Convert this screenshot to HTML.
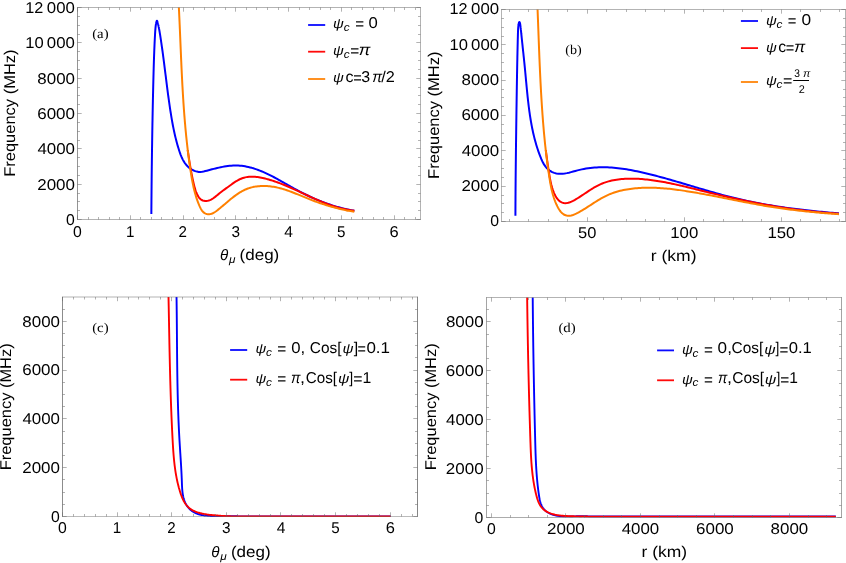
<!DOCTYPE html>
<html><head><meta charset="utf-8"><title>Frequency plots</title>
<style>html,body{margin:0;padding:0;background:#fff;}svg{display:block;will-change:transform;}text{font-family:"Liberation Sans",sans-serif;fill:#000;text-rendering:geometricPrecision;}.i{font-style:italic;}.s{font-family:"Liberation Serif",serif;}</style></head><body>
<svg width="846" height="563" viewBox="0 0 846 563">
<rect width="846" height="563" fill="#fff"/>
<defs><clipPath id="ca"><rect x="77.50" y="7.50" width="343.00" height="212.00"/></clipPath>
<clipPath id="car"><rect x="77.50" y="150" width="343.00" height="69.50"/></clipPath>
<clipPath id="cbr"><rect x="501.50" y="150" width="344.00" height="71.50"/></clipPath>
<clipPath id="cb"><rect x="501.50" y="9.50" width="344.00" height="212.00"/></clipPath>
<clipPath id="cc"><rect x="62.50" y="297.00" width="355.00" height="220.00"/></clipPath>
<clipPath id="cd"><rect x="486.50" y="297.50" width="355.00" height="220.10"/></clipPath></defs>
<path d="M151.35 214.00 L151.36 212.26 L151.37 210.51 L151.38 208.77 L151.40 207.02 L151.41 205.27 L151.43 203.53 L151.44 201.78 L151.45 200.04 L151.47 198.29 L151.49 196.55 L151.50 194.80 L151.52 193.06 L151.53 191.31 L151.55 189.57 L151.57 187.82 L151.58 186.08 L151.60 184.33 L151.62 182.59 L151.64 180.84 L151.65 179.10 L151.67 177.35 L151.69 175.61 L151.71 173.86 L151.73 172.12 L151.75 170.37 L151.77 168.63 L151.79 166.88 L151.81 165.14 L151.84 163.39 L151.86 161.65 L151.88 159.90 L151.90 158.16 L151.93 156.41 L151.95 154.67 L151.97 152.92 L152.00 151.18 L152.02 149.43 L152.05 147.69 L152.07 145.94 L152.10 144.20 L152.13 142.46 L152.15 140.71 L152.18 138.97 L152.21 137.22 L152.24 135.48 L152.26 133.73 L152.29 131.99 L152.32 130.24 L152.35 128.50 L152.38 126.75 L152.41 125.01 L152.44 123.26 L152.48 121.52 L152.51 119.78 L152.54 118.03 L152.57 116.29 L152.61 114.54 L152.64 112.80 L152.68 111.05 L152.71 109.31 L152.75 107.56 L152.78 105.82 L152.82 104.07 L152.86 102.33 L152.89 100.58 L152.93 98.84 L152.97 97.09 L153.01 95.35 L153.05 93.60 L153.09 91.86 L153.13 90.11 L153.17 88.37 L153.21 86.62 L153.25 84.88 L153.30 83.13 L153.34 81.39 L153.38 79.64 L153.43 77.90 L153.47 76.15 L153.52 74.41 L153.56 72.66 L153.61 70.92 L153.66 69.17 L153.71 67.43 L153.76 65.68 L153.81 63.94 L153.87 62.19 L153.92 60.45 L153.98 58.70 L154.04 56.96 L154.10 55.22 L154.17 53.47 L154.23 51.73 L154.30 49.98 L154.37 48.24 L154.45 46.50 L154.52 44.75 L154.60 43.01 L154.68 41.27 L154.77 39.53 L154.86 37.78 L154.95 36.04 L155.05 34.30 L155.06 34.00 L155.08 33.66 L155.10 33.31 L155.12 32.97 L155.14 32.63 L155.15 32.56 L155.16 32.29 L155.18 31.94 L155.20 31.60 L155.23 31.26 L155.25 30.91 L155.26 30.82 L155.27 30.57 L155.30 30.23 L155.32 29.89 L155.35 29.55 L155.38 29.20 L155.39 29.09 L155.41 28.86 L155.44 28.52 L155.47 28.18 L155.50 27.84 L155.53 27.50 L155.55 27.36 L155.57 27.16 L155.61 26.82 L155.64 26.48 L155.68 26.14 L155.73 25.80 L155.75 25.64 L155.77 25.47 L155.81 25.13 L155.86 24.79 L155.91 24.45 L155.96 24.12 L155.99 23.93 L156.02 23.78 L156.08 23.44 L156.15 23.09 L156.22 22.73 L156.31 22.36 L156.37 22.11 L156.41 21.97 L156.52 21.57 L156.65 21.20 L156.78 20.91 L156.92 20.76 L157.01 20.77 L157.05 20.80 L157.18 21.00 L157.30 21.33 L157.42 21.72 L157.53 22.14 L157.62 22.46 L157.64 22.55 L157.74 22.93 L157.84 23.29 L157.93 23.65 L158.01 23.99 L158.09 24.27 L158.10 24.32 L158.18 24.64 L158.26 24.97 L158.33 25.29 L158.41 25.61 L158.48 25.92 L158.48 25.94 L158.55 26.27 L158.63 26.60 L158.69 26.92 L158.76 27.25 L158.83 27.58 L158.83 27.59 L158.90 27.92 L158.96 28.25 L159.03 28.58 L159.09 28.92 L159.15 29.25 L159.16 29.28 L159.22 29.59 L159.28 29.92 L159.34 30.26 L159.40 30.60 L159.45 30.94 L159.46 30.99 L159.51 31.27 L159.57 31.61 L159.63 31.95 L159.68 32.29 L159.74 32.63 L159.75 32.71 L159.80 32.97 L159.85 33.31 L159.91 33.65 L159.96 33.99 L160.03 34.44 L160.31 36.16 L160.58 37.89 L160.84 39.62 L161.10 41.34 L161.36 43.07 L161.61 44.80 L161.85 46.53 L162.10 48.26 L162.34 50.00 L162.58 51.73 L162.81 53.46 L163.04 55.19 L163.27 56.92 L163.50 58.66 L163.73 60.39 L163.95 62.12 L164.17 63.85 L164.39 65.59 L164.61 67.32 L164.83 69.05 L165.05 70.79 L165.27 72.52 L165.48 74.25 L165.70 75.98 L165.92 77.72 L166.13 79.45 L166.35 81.18 L166.57 82.91 L166.79 84.64 L167.01 86.37 L167.23 88.10 L167.46 89.83 L167.68 91.56 L167.91 93.29 L168.14 95.02 L168.38 96.74 L168.61 98.47 L168.85 100.19 L169.09 101.92 L169.34 103.64 L169.59 105.36 L169.84 107.09 L170.10 108.81 L170.36 110.53 L170.63 112.24 L170.90 113.96 L171.17 115.68 L171.46 117.39 L171.75 119.11 L172.05 120.82 L172.35 122.53 L172.67 124.24 L172.99 125.95 L173.33 127.66 L173.68 129.37 L174.03 131.07 L174.40 132.78 L174.79 134.48 L175.18 136.18 L175.59 137.89 L176.02 139.59 L176.46 141.29 L176.92 142.98 L177.39 144.68 L177.88 146.38 L178.39 148.07 L178.92 149.76 L179.47 151.45 L180.05 153.14 L180.66 154.80 L181.31 156.44 L182.02 158.04 L182.79 159.61 L183.62 161.12 L184.53 162.58 L185.52 163.97 L186.60 165.28 L187.77 166.52 L189.06 167.66 L190.46 168.71 L191.97 169.65 L193.59 170.46 L195.26 171.12 L196.97 171.61 L198.68 171.89 L200.37 171.95 L202.01 171.79 L203.64 171.49 L205.27 171.09 L206.91 170.66 L208.58 170.22 L210.27 169.77 L211.98 169.32 L213.70 168.88 L215.45 168.45 L217.20 168.02 L218.96 167.62 L220.73 167.24 L222.50 166.88 L224.28 166.55 L226.06 166.26 L227.83 166.01 L229.61 165.81 L231.37 165.65 L233.12 165.55 L234.87 165.50 L236.60 165.51 L238.32 165.57 L240.03 165.69 L241.73 165.86 L243.42 166.08 L245.10 166.34 L246.77 166.65 L248.43 167.01 L250.08 167.41 L251.73 167.84 L253.36 168.32 L254.99 168.83 L256.61 169.38 L258.22 169.96 L259.83 170.58 L261.43 171.22 L263.03 171.89 L264.62 172.59 L266.20 173.32 L267.78 174.06 L269.35 174.83 L270.92 175.61 L272.49 176.42 L274.05 177.24 L275.60 178.07 L277.16 178.91 L278.71 179.77 L280.26 180.63 L281.81 181.51 L283.36 182.38 L284.90 183.26 L286.44 184.14 L287.99 185.03 L289.53 185.90 L291.07 186.78 L292.61 187.65 L294.16 188.51 L295.70 189.37 L297.25 190.21 L298.79 191.04 L300.34 191.86 L301.89 192.67 L303.45 193.46 L305.00 194.24 L306.56 195.01 L308.13 195.76 L309.69 196.50 L311.26 197.22 L312.84 197.93 L314.42 198.63 L316.00 199.32 L317.59 199.99 L319.18 200.64 L320.78 201.28 L322.39 201.90 L324.00 202.51 L325.62 203.11 L327.24 203.69 L328.87 204.25 L330.51 204.80 L332.16 205.34 L333.81 205.85 L335.47 206.35 L337.14 206.84 L338.82 207.31 L340.51 207.76 L342.21 208.19 L343.92 208.61 L345.63 209.01 L347.36 209.40 L349.10 209.76 L350.85 210.11 L352.60 210.44 L354.37 210.76" fill="none" stroke="#0000ff" stroke-width="2.00" stroke-linejoin="round" stroke-linecap="butt" clip-path="url(#ca)"/>
<path d="M177.80 -9.96 L177.90 -8.71 L177.99 -7.45 L178.08 -6.19 L178.18 -4.93 L178.26 -3.67 L178.35 -2.41 L178.44 -1.15 L178.52 0.12 L178.60 1.38 L178.68 2.64 L178.76 3.90 L178.84 5.16 L178.91 6.43 L178.99 7.69 L179.06 8.95 L179.13 10.22 L179.20 11.48 L179.27 12.75 L179.33 14.01 L179.40 15.28 L179.46 16.54 L179.53 17.81 L179.59 19.07 L179.65 20.34 L179.71 21.60 L179.77 22.87 L179.83 24.14 L179.88 25.40 L179.94 26.67 L180.00 27.94 L180.05 29.20 L180.10 30.47 L180.16 31.74 L180.21 33.01 L180.26 34.27 L180.31 35.54 L180.36 36.81 L180.41 38.08 L180.46 39.35 L180.51 40.62 L180.56 41.88 L180.61 43.15 L180.66 44.42 L180.70 45.69 L180.75 46.96 L180.80 48.23 L180.85 49.50 L180.89 50.77 L180.94 52.04 L180.99 53.31 L181.03 54.58 L181.08 55.85 L181.13 57.12 L181.18 58.39 L181.22 59.65 L181.27 60.92 L181.32 62.19 L181.37 63.46 L181.42 64.73 L181.47 66.00 L181.52 67.27 L181.57 68.54 L181.62 69.81 L181.67 71.08 L181.72 72.35 L181.77 73.62 L181.82 74.89 L181.88 76.16 L181.93 77.43 L181.99 78.70 L182.04 79.97 L182.10 81.24 L182.16 82.50 L182.22 83.77 L182.28 85.04 L182.34 86.31 L182.40 87.58 L182.46 88.85 L182.53 90.12 L182.59 91.38 L182.66 92.65 L182.73 93.92 L182.80 95.19 L182.87 96.45 L182.94 97.72 L183.02 98.99 L183.09 100.26 L183.17 101.52 L183.25 102.79 L183.33 104.05 L183.41 105.32 L183.49 106.59 L183.58 107.85 L183.66 109.12 L183.75 110.38 L183.84 111.65 L183.94 112.91 L184.03 114.17 L184.13 115.44 L184.23 116.70 L184.33 117.97 L184.43 119.23 L184.54 120.49 L184.64 121.75 L184.75 123.02 L184.87 124.28 L184.98 125.54 L185.10 126.80 L185.22 128.06 L185.34 129.32 L185.46 130.58 L185.59 131.84 L185.72 133.10 L185.85 134.36 L185.98 135.62 L186.12 136.88 L186.26 138.13 L186.40 139.39 L186.55 140.65 L186.70 141.91 L186.85 143.16 L187.00 144.42 L187.16 145.67 L187.32 146.93 L187.48 148.18 L187.65 149.44 L187.82 150.69 L187.99 151.94 L188.17 153.19 L188.35 154.45 L188.53 155.70 L188.72 156.95 L188.91 158.20 L189.10 159.45 L189.30 160.70 L189.50 161.95 L189.70 163.20 L189.91 164.44 L190.12 165.69 L190.33 166.94 L190.55 168.19 L190.78 169.43 L191.00 170.68 L191.24 171.93 L191.48 173.17 L191.72 174.42 L191.97 175.67 L192.22 176.91 L192.49 178.16 L192.75 179.41 L193.03 180.66 L193.31 181.91 L193.60 183.16 L193.89 184.42 L194.19 185.67 L194.51 186.92 L194.85 188.16 L195.22 189.40 L195.62 190.62 L196.06 191.83 L196.54 193.02 L197.07 194.19 L197.66 195.34 L198.31 196.46 L199.03 197.52 L199.83 198.49 L200.71 199.33 L201.70 200.01 L202.78 200.52 L203.93 200.85 L205.12 201.02 L206.35 201.03 L207.58 200.88 L208.79 200.59 L209.97 200.15 L211.12 199.60 L212.24 198.95 L213.33 198.21 L214.41 197.43 L215.46 196.60 L216.50 195.76 L217.51 194.92 L218.52 194.10 L219.51 193.30 L220.49 192.53 L221.47 191.78 L222.44 191.04 L223.41 190.32 L224.38 189.60 L225.36 188.88 L226.34 188.16 L227.34 187.44 L228.35 186.71 L229.37 185.97 L230.41 185.21 L231.47 184.45 L232.54 183.68 L233.63 182.93 L234.74 182.18 L235.86 181.46 L236.99 180.77 L238.14 180.12 L239.30 179.51 L240.47 178.96 L241.65 178.46 L242.85 178.03 L244.05 177.67 L245.26 177.37 L246.48 177.12 L247.70 176.93 L248.93 176.80 L250.17 176.71 L251.41 176.67 L252.65 176.68 L253.90 176.73 L255.15 176.82 L256.40 176.94 L257.65 177.10 L258.90 177.28 L260.15 177.50 L261.39 177.74 L262.64 178.00 L263.88 178.29 L265.12 178.59 L266.35 178.90 L267.58 179.23 L268.80 179.57 L270.02 179.92 L271.23 180.29 L272.44 180.67 L273.64 181.06 L274.84 181.46 L276.04 181.87 L277.23 182.30 L278.42 182.73 L279.61 183.17 L280.80 183.62 L281.98 184.09 L283.15 184.55 L284.33 185.03 L285.50 185.51 L286.67 186.00 L287.84 186.50 L289.01 187.00 L290.17 187.51 L291.33 188.02 L292.49 188.54 L293.65 189.06 L294.81 189.58 L295.96 190.11 L297.12 190.64 L298.27 191.18 L299.43 191.71 L300.58 192.25 L301.73 192.79 L302.89 193.32 L304.04 193.86 L305.19 194.40 L306.34 194.94 L307.50 195.47 L308.65 196.01 L309.80 196.54 L310.96 197.07 L312.12 197.60 L313.27 198.12 L314.43 198.64 L315.59 199.16 L316.75 199.67 L317.91 200.17 L319.08 200.67 L320.25 201.17 L321.42 201.65 L322.59 202.13 L323.76 202.60 L324.94 203.07 L326.12 203.53 L327.30 203.97 L328.48 204.41 L329.67 204.84 L330.86 205.26 L332.06 205.67 L333.26 206.06 L334.46 206.45 L335.67 206.82 L336.88 207.18 L338.09 207.53 L339.31 207.87 L340.54 208.19 L341.77 208.50 L343.00 208.79 L344.24 209.07 L345.48 209.33 L346.73 209.58 L347.99 209.81 L349.25 210.02 L350.52 210.22 L351.79 210.40 L353.07 210.56 L354.35 210.70" fill="none" stroke="#ff0000" stroke-width="2.00" stroke-linejoin="round" stroke-linecap="butt" clip-path="url(#car)"/>
<path d="M177.92 -9.97 L178.00 -8.68 L178.08 -7.38 L178.15 -6.09 L178.22 -4.80 L178.29 -3.50 L178.37 -2.21 L178.44 -0.91 L178.50 0.39 L178.57 1.68 L178.64 2.98 L178.71 4.27 L178.77 5.57 L178.84 6.87 L178.90 8.16 L178.96 9.46 L179.03 10.76 L179.09 12.06 L179.15 13.36 L179.21 14.65 L179.27 15.95 L179.33 17.25 L179.39 18.55 L179.45 19.85 L179.51 21.15 L179.57 22.45 L179.62 23.75 L179.68 25.05 L179.74 26.35 L179.79 27.65 L179.85 28.95 L179.91 30.25 L179.96 31.55 L180.02 32.85 L180.07 34.15 L180.13 35.45 L180.18 36.76 L180.24 38.06 L180.29 39.36 L180.34 40.66 L180.40 41.96 L180.45 43.26 L180.51 44.57 L180.56 45.87 L180.62 47.17 L180.67 48.47 L180.73 49.77 L180.78 51.08 L180.84 52.38 L180.90 53.68 L180.95 54.98 L181.01 56.29 L181.06 57.59 L181.12 58.89 L181.18 60.19 L181.24 61.49 L181.30 62.80 L181.35 64.10 L181.41 65.40 L181.47 66.70 L181.53 68.01 L181.59 69.31 L181.66 70.61 L181.72 71.91 L181.78 73.22 L181.85 74.52 L181.91 75.82 L181.97 77.12 L182.04 78.43 L182.11 79.73 L182.17 81.03 L182.24 82.33 L182.31 83.63 L182.38 84.93 L182.45 86.24 L182.53 87.54 L182.60 88.84 L182.67 90.14 L182.75 91.44 L182.83 92.74 L182.90 94.04 L182.98 95.34 L183.06 96.64 L183.14 97.94 L183.23 99.24 L183.31 100.54 L183.39 101.84 L183.48 103.14 L183.57 104.44 L183.66 105.74 L183.75 107.04 L183.84 108.34 L183.93 109.64 L184.03 110.94 L184.12 112.23 L184.22 113.53 L184.32 114.83 L184.42 116.13 L184.53 117.42 L184.63 118.72 L184.74 120.02 L184.84 121.31 L184.95 122.61 L185.07 123.91 L185.18 125.20 L185.29 126.50 L185.41 127.79 L185.53 129.09 L185.65 130.38 L185.77 131.67 L185.90 132.97 L186.02 134.26 L186.15 135.55 L186.28 136.85 L186.42 138.14 L186.55 139.43 L186.69 140.72 L186.83 142.01 L186.97 143.31 L187.12 144.60 L187.26 145.89 L187.41 147.18 L187.56 148.47 L187.71 149.75 L187.87 151.04 L188.03 152.33 L188.19 153.62 L188.35 154.91 L188.52 156.19 L188.68 157.48 L188.85 158.77 L189.03 160.05 L189.20 161.34 L189.38 162.62 L189.56 163.90 L189.75 165.19 L189.93 166.47 L190.12 167.75 L190.31 169.04 L190.51 170.32 L190.71 171.60 L190.91 172.88 L191.11 174.16 L191.32 175.44 L191.53 176.72 L191.75 178.00 L191.97 179.28 L192.21 180.55 L192.44 181.83 L192.69 183.10 L192.95 184.38 L193.22 185.65 L193.49 186.93 L193.78 188.20 L194.08 189.47 L194.40 190.74 L194.73 192.01 L195.07 193.28 L195.43 194.55 L195.80 195.82 L196.19 197.09 L196.60 198.35 L197.03 199.62 L197.48 200.88 L197.94 202.14 L198.43 203.41 L198.94 204.67 L199.47 205.93 L200.03 207.17 L200.63 208.37 L201.28 209.52 L201.98 210.59 L202.76 211.57 L203.62 212.42 L204.56 213.12 L205.60 213.67 L206.75 214.03 L207.97 214.22 L209.21 214.23 L210.45 214.06 L211.64 213.73 L212.80 213.26 L213.92 212.67 L215.02 211.99 L216.09 211.24 L217.15 210.44 L218.20 209.62 L219.24 208.79 L220.27 207.95 L221.30 207.10 L222.32 206.24 L223.34 205.38 L224.35 204.51 L225.37 203.65 L226.38 202.78 L227.39 201.91 L228.41 201.05 L229.42 200.20 L230.44 199.35 L231.46 198.52 L232.49 197.69 L233.52 196.88 L234.56 196.09 L235.61 195.32 L236.66 194.56 L237.73 193.83 L238.80 193.11 L239.89 192.43 L240.99 191.77 L242.10 191.15 L243.23 190.55 L244.37 189.99 L245.53 189.46 L246.70 188.97 L247.90 188.52 L249.11 188.10 L250.34 187.73 L251.58 187.40 L252.84 187.10 L254.11 186.84 L255.39 186.61 L256.68 186.42 L257.98 186.27 L259.28 186.15 L260.59 186.06 L261.91 186.00 L263.22 185.98 L264.54 185.99 L265.85 186.02 L267.17 186.09 L268.48 186.19 L269.79 186.31 L271.09 186.46 L272.38 186.64 L273.67 186.85 L274.95 187.08 L276.22 187.33 L277.49 187.61 L278.75 187.90 L280.01 188.22 L281.26 188.55 L282.51 188.91 L283.75 189.28 L284.99 189.67 L286.22 190.07 L287.45 190.49 L288.68 190.92 L289.90 191.36 L291.12 191.81 L292.34 192.27 L293.55 192.74 L294.77 193.21 L295.98 193.70 L297.19 194.19 L298.40 194.68 L299.61 195.17 L300.82 195.67 L302.03 196.17 L303.24 196.67 L304.44 197.16 L305.65 197.66 L306.86 198.15 L308.08 198.64 L309.29 199.12 L310.51 199.59 L311.72 200.06 L312.94 200.53 L314.16 200.99 L315.38 201.44 L316.61 201.88 L317.83 202.32 L319.06 202.76 L320.29 203.18 L321.52 203.60 L322.75 204.02 L323.99 204.42 L325.23 204.82 L326.46 205.22 L327.71 205.60 L328.95 205.98 L330.19 206.35 L331.44 206.71 L332.69 207.06 L333.94 207.41 L335.20 207.75 L336.45 208.08 L337.71 208.40 L338.97 208.71 L340.23 209.01 L341.50 209.31 L342.77 209.59 L344.04 209.87 L345.31 210.14 L346.59 210.40 L347.86 210.65 L349.14 210.89 L350.43 211.11 L351.71 211.33 L353.00 211.54 L354.29 211.74" fill="none" stroke="#ff8000" stroke-width="2.00" stroke-linejoin="round" stroke-linecap="butt" clip-path="url(#ca)"/>
<path d="M88.50 219.50v-2.50 M88.50 7.50v2.50 M98.50 219.50v-2.50 M98.50 7.50v2.50 M109.50 219.50v-2.50 M109.50 7.50v2.50 M119.50 219.50v-2.50 M119.50 7.50v2.50 M140.50 219.50v-2.50 M140.50 7.50v2.50 M151.50 219.50v-2.50 M151.50 7.50v2.50 M161.50 219.50v-2.50 M161.50 7.50v2.50 M172.50 219.50v-2.50 M172.50 7.50v2.50 M193.50 219.50v-2.50 M193.50 7.50v2.50 M204.50 219.50v-2.50 M204.50 7.50v2.50 M214.50 219.50v-2.50 M214.50 7.50v2.50 M225.50 219.50v-2.50 M225.50 7.50v2.50 M246.50 219.50v-2.50 M246.50 7.50v2.50 M256.50 219.50v-2.50 M256.50 7.50v2.50 M267.50 219.50v-2.50 M267.50 7.50v2.50 M278.50 219.50v-2.50 M278.50 7.50v2.50 M299.50 219.50v-2.50 M299.50 7.50v2.50 M309.50 219.50v-2.50 M309.50 7.50v2.50 M320.50 219.50v-2.50 M320.50 7.50v2.50 M330.50 219.50v-2.50 M330.50 7.50v2.50 M351.50 219.50v-2.50 M351.50 7.50v2.50 M362.50 219.50v-2.50 M362.50 7.50v2.50 M373.50 219.50v-2.50 M373.50 7.50v2.50 M383.50 219.50v-2.50 M383.50 7.50v2.50 M404.50 219.50v-2.50 M404.50 7.50v2.50 M415.50 219.50v-2.50 M415.50 7.50v2.50 M77.50 219.50v-4.20 M77.50 7.50v4.20 M130.50 219.50v-4.20 M130.50 7.50v4.20 M183.50 219.50v-4.20 M183.50 7.50v4.20 M235.50 219.50v-4.20 M235.50 7.50v4.20 M288.50 219.50v-4.20 M288.50 7.50v4.20 M341.50 219.50v-4.20 M341.50 7.50v4.20 M394.50 219.50v-4.20 M394.50 7.50v4.20 M77.50 210.50h2.50 M420.50 210.50h-2.50 M77.50 201.50h2.50 M420.50 201.50h-2.50 M77.50 193.50h2.50 M420.50 193.50h-2.50 M77.50 175.50h2.50 M420.50 175.50h-2.50 M77.50 166.50h2.50 M420.50 166.50h-2.50 M77.50 157.50h2.50 M420.50 157.50h-2.50 M77.50 140.50h2.50 M420.50 140.50h-2.50 M77.50 131.50h2.50 M420.50 131.50h-2.50 M77.50 122.50h2.50 M420.50 122.50h-2.50 M77.50 104.50h2.50 M420.50 104.50h-2.50 M77.50 95.50h2.50 M420.50 95.50h-2.50 M77.50 87.50h2.50 M420.50 87.50h-2.50 M77.50 69.50h2.50 M420.50 69.50h-2.50 M77.50 60.50h2.50 M420.50 60.50h-2.50 M77.50 51.50h2.50 M420.50 51.50h-2.50 M77.50 34.50h2.50 M420.50 34.50h-2.50 M77.50 25.50h2.50 M420.50 25.50h-2.50 M77.50 16.50h2.50 M420.50 16.50h-2.50 M77.50 219.50h4.20 M420.50 219.50h-4.20 M77.50 184.50h4.20 M420.50 184.50h-4.20 M77.50 148.50h4.20 M420.50 148.50h-4.20 M77.50 113.50h4.20 M420.50 113.50h-4.20 M77.50 78.50h4.20 M420.50 78.50h-4.20 M77.50 42.50h4.20 M420.50 42.50h-4.20 M77.50 7.50h4.20 M420.50 7.50h-4.20" stroke="#666" stroke-width="0.50" fill="none"/>
<path d="M77.50 7.25V219.75" stroke="#666" stroke-width="0.70" fill="none"/>
<path d="M420.50 7.25V219.75" stroke="#666" stroke-width="0.50" fill="none"/>
<path d="M77.25 7.50H420.75" stroke="#666" stroke-width="0.50" fill="none"/>
<path d="M77.25 219.50H420.75" stroke="#666" stroke-width="0.50" fill="none"/>
<path d="M515.42 215.80 L515.42 213.65 L515.43 211.50 L515.44 209.34 L515.45 207.19 L515.46 205.04 L515.47 202.88 L515.49 200.73 L515.50 198.58 L515.51 196.43 L515.53 194.27 L515.54 192.12 L515.56 189.97 L515.57 187.82 L515.59 185.67 L515.61 183.51 L515.63 181.36 L515.64 179.21 L515.66 177.06 L515.68 174.91 L515.70 172.76 L515.72 170.60 L515.75 168.45 L515.77 166.30 L515.79 164.15 L515.81 162.00 L515.84 159.85 L515.86 157.69 L515.88 155.54 L515.91 153.39 L515.93 151.24 L515.96 149.09 L515.98 146.94 L516.01 144.79 L516.04 142.63 L516.06 140.48 L516.09 138.33 L516.12 136.18 L516.15 134.03 L516.18 131.88 L516.20 129.72 L516.23 127.57 L516.26 125.42 L516.29 123.27 L516.32 121.12 L516.35 118.97 L516.38 116.81 L516.41 114.66 L516.44 112.51 L516.47 110.36 L516.50 108.20 L516.54 106.05 L516.57 103.90 L516.60 101.75 L516.63 99.59 L516.66 97.44 L516.70 95.29 L516.73 93.14 L516.76 90.98 L516.80 88.83 L516.83 86.68 L516.87 84.53 L516.90 82.37 L516.94 80.22 L516.97 78.07 L517.01 75.92 L517.05 73.76 L517.09 71.61 L517.13 69.46 L517.17 67.31 L517.21 65.15 L517.25 63.00 L517.30 60.85 L517.34 58.70 L517.38 56.55 L517.43 54.40 L517.48 52.25 L517.53 50.09 L517.58 47.94 L517.63 45.79 L517.68 43.64 L517.73 41.49 L517.78 39.34 L517.84 37.19 L517.90 35.04 L517.93 34.00 L517.93 33.69 L517.94 33.38 L517.95 33.07 L517.96 32.90 L517.96 32.76 L517.97 32.45 L517.98 32.14 L517.99 31.83 L518.00 31.52 L518.01 31.21 L518.02 30.90 L518.03 30.75 L518.04 30.59 L518.05 30.28 L518.06 29.97 L518.08 29.66 L518.10 29.35 L518.11 29.04 L518.13 28.73 L518.14 28.60 L518.15 28.42 L518.18 28.11 L518.20 27.80 L518.22 27.49 L518.25 27.18 L518.28 26.87 L518.31 26.56 L518.32 26.47 L518.34 26.26 L518.37 25.95 L518.41 25.64 L518.45 25.33 L518.49 25.02 L518.53 24.72 L518.57 24.41 L518.59 24.33 L518.63 24.09 L518.69 23.77 L518.76 23.44 L518.85 23.10 L518.95 22.75 L519.07 22.41 L519.20 22.14 L519.22 22.10 L519.34 21.98 L519.48 21.99 L519.61 22.16 L519.74 22.45 L519.86 22.79 L519.96 23.14 L520.05 23.48 L520.05 23.50 L520.12 23.81 L520.18 24.13 L520.23 24.44 L520.27 24.75 L520.31 25.06 L520.35 25.36 L520.39 25.67 L520.39 25.67 L520.43 25.98 L520.47 26.29 L520.51 26.59 L520.55 26.90 L520.58 27.21 L520.62 27.52 L520.65 27.80 L520.66 27.83 L520.69 28.13 L520.73 28.44 L520.76 28.75 L520.80 29.06 L520.83 29.37 L520.86 29.67 L520.89 29.93 L520.90 29.98 L520.93 30.29 L520.96 30.60 L521.00 30.91 L521.03 31.22 L521.06 31.53 L521.09 31.83 L521.12 32.07 L521.12 32.14 L521.16 32.45 L521.19 32.76 L521.22 33.07 L521.25 33.38 L521.28 33.69 L521.31 34.00 L521.34 34.20 L521.56 36.34 L521.78 38.48 L522.00 40.61 L522.23 42.75 L522.46 44.89 L522.68 47.03 L522.91 49.17 L523.14 51.31 L523.37 53.45 L523.59 55.59 L523.82 57.73 L524.04 59.88 L524.26 62.02 L524.48 64.16 L524.70 66.30 L524.91 68.45 L525.12 70.59 L525.32 72.74 L525.52 74.88 L525.72 77.02 L525.92 79.17 L526.12 81.31 L526.32 83.46 L526.52 85.60 L526.73 87.75 L526.93 89.89 L527.15 92.03 L527.36 94.18 L527.58 96.32 L527.81 98.46 L528.05 100.59 L528.29 102.73 L528.55 104.87 L528.81 107.00 L529.08 109.13 L529.37 111.26 L529.67 113.39 L529.98 115.52 L530.31 117.64 L530.65 119.76 L531.01 121.88 L531.39 124.00 L531.78 126.11 L532.19 128.22 L532.63 130.32 L533.08 132.42 L533.56 134.52 L534.06 136.61 L534.59 138.70 L535.14 140.78 L535.71 142.85 L536.32 144.92 L536.95 146.98 L537.61 149.04 L538.30 151.09 L539.02 153.14 L539.77 155.17 L540.56 157.20 L541.39 159.22 L542.28 161.20 L543.25 163.12 L544.34 164.95 L545.57 166.68 L546.95 168.28 L548.52 169.73 L550.30 171.00 L552.24 172.06 L554.27 172.87 L556.33 173.43 L558.41 173.74 L560.49 173.84 L562.59 173.75 L564.70 173.50 L566.81 173.13 L568.93 172.66 L571.06 172.12 L573.19 171.54 L575.33 170.95 L577.47 170.37 L579.61 169.85 L581.75 169.37 L583.89 168.95 L586.02 168.58 L588.16 168.26 L590.30 167.98 L592.44 167.76 L594.58 167.58 L596.72 167.44 L598.86 167.34 L600.99 167.29 L603.13 167.28 L605.26 167.30 L607.40 167.36 L609.53 167.46 L611.66 167.59 L613.79 167.76 L615.92 167.95 L618.05 168.18 L620.17 168.43 L622.30 168.72 L624.42 169.03 L626.54 169.36 L628.66 169.71 L630.78 170.09 L632.89 170.49 L635.00 170.91 L637.11 171.34 L639.22 171.79 L641.32 172.26 L643.42 172.74 L645.52 173.23 L647.61 173.73 L649.70 174.24 L651.79 174.76 L653.88 175.29 L655.97 175.83 L658.05 176.38 L660.13 176.94 L662.21 177.50 L664.28 178.07 L666.36 178.65 L668.43 179.24 L670.50 179.82 L672.57 180.42 L674.64 181.02 L676.70 181.62 L678.77 182.22 L680.84 182.83 L682.90 183.44 L684.96 184.06 L687.03 184.67 L689.09 185.29 L691.15 185.90 L693.22 186.52 L695.28 187.14 L697.34 187.75 L699.41 188.36 L701.47 188.98 L703.53 189.58 L705.60 190.19 L707.67 190.79 L709.73 191.39 L711.80 191.99 L713.87 192.58 L715.94 193.16 L718.01 193.74 L720.09 194.31 L722.16 194.87 L724.24 195.43 L726.32 195.98 L728.40 196.52 L730.48 197.05 L732.57 197.58 L734.66 198.09 L736.75 198.59 L738.84 199.08 L740.94 199.57 L743.04 200.04 L745.14 200.50 L747.24 200.96 L749.35 201.40 L751.45 201.83 L753.56 202.26 L755.67 202.68 L757.79 203.08 L759.90 203.48 L762.02 203.87 L764.14 204.25 L766.26 204.63 L768.38 204.99 L770.51 205.35 L772.63 205.70 L774.76 206.04 L776.89 206.37 L779.02 206.70 L781.15 207.02 L783.28 207.33 L785.41 207.64 L787.55 207.93 L789.68 208.22 L791.82 208.51 L793.95 208.79 L796.09 209.06 L798.23 209.32 L800.37 209.58 L802.50 209.83 L804.64 210.08 L806.78 210.32 L808.92 210.56 L811.06 210.79 L813.20 211.01 L815.34 211.23 L817.48 211.45 L819.62 211.66 L821.77 211.86 L823.91 212.07 L826.05 212.26 L828.18 212.45 L830.32 212.64 L832.46 212.83 L834.60 213.01 L836.74 213.18 L838.88 213.35" fill="none" stroke="#0000ff" stroke-width="2.00" stroke-linejoin="round" stroke-linecap="butt" clip-path="url(#cb)"/>
<path d="M536.70 -9.98 L536.79 -8.30 L536.88 -6.63 L536.96 -4.95 L537.05 -3.27 L537.13 -1.60 L537.21 0.08 L537.29 1.76 L537.36 3.44 L537.44 5.12 L537.51 6.80 L537.58 8.48 L537.65 10.16 L537.72 11.84 L537.79 13.52 L537.86 15.20 L537.93 16.88 L537.99 18.56 L538.06 20.24 L538.12 21.92 L538.19 23.60 L538.25 25.28 L538.31 26.96 L538.38 28.64 L538.44 30.33 L538.50 32.01 L538.56 33.69 L538.62 35.37 L538.68 37.06 L538.74 38.74 L538.80 40.42 L538.86 42.10 L538.92 43.79 L538.98 45.47 L539.04 47.15 L539.10 48.83 L539.17 50.52 L539.23 52.20 L539.29 53.88 L539.35 55.56 L539.42 57.25 L539.48 58.93 L539.54 60.61 L539.61 62.30 L539.68 63.98 L539.74 65.66 L539.81 67.34 L539.88 69.03 L539.95 70.71 L540.03 72.39 L540.10 74.07 L540.17 75.76 L540.25 77.44 L540.33 79.12 L540.40 80.80 L540.49 82.48 L540.57 84.17 L540.65 85.85 L540.74 87.53 L540.82 89.21 L540.91 90.89 L541.01 92.57 L541.10 94.25 L541.19 95.93 L541.29 97.61 L541.39 99.29 L541.49 100.97 L541.60 102.65 L541.71 104.33 L541.82 106.01 L541.93 107.69 L542.04 109.37 L542.16 111.04 L542.28 112.72 L542.40 114.40 L542.53 116.08 L542.66 117.75 L542.79 119.43 L542.93 121.11 L543.07 122.78 L543.21 124.46 L543.35 126.13 L543.50 127.81 L543.65 129.48 L543.81 131.15 L543.97 132.83 L544.13 134.50 L544.30 136.17 L544.47 137.84 L544.64 139.52 L544.82 141.19 L545.00 142.86 L545.19 144.53 L545.37 146.20 L545.57 147.87 L545.77 149.54 L545.97 151.20 L546.18 152.87 L546.39 154.54 L546.60 156.21 L546.82 157.87 L547.05 159.54 L547.28 161.20 L547.51 162.87 L547.75 164.53 L548.00 166.19 L548.25 167.86 L548.50 169.52 L548.76 171.18 L549.02 172.84 L549.29 174.50 L549.57 176.16 L549.86 177.82 L550.17 179.47 L550.50 181.13 L550.85 182.77 L551.24 184.42 L551.68 186.06 L552.15 187.69 L552.67 189.32 L553.25 190.94 L553.89 192.56 L554.60 194.16 L555.37 195.75 L556.24 197.27 L557.20 198.68 L558.28 199.96 L559.48 201.06 L560.80 201.94 L562.23 202.60 L563.73 203.01 L565.26 203.17 L566.80 203.08 L568.35 202.78 L569.91 202.29 L571.47 201.66 L573.01 200.91 L574.55 200.07 L576.07 199.18 L577.57 198.27 L579.06 197.34 L580.52 196.39 L581.98 195.44 L583.42 194.48 L584.85 193.52 L586.28 192.56 L587.70 191.61 L589.13 190.68 L590.55 189.76 L591.98 188.86 L593.41 187.98 L594.86 187.14 L596.31 186.33 L597.78 185.56 L599.26 184.83 L600.76 184.15 L602.28 183.51 L603.81 182.92 L605.37 182.37 L606.93 181.86 L608.52 181.40 L610.11 180.98 L611.72 180.59 L613.34 180.25 L614.98 179.94 L616.62 179.67 L618.27 179.43 L619.94 179.23 L621.60 179.05 L623.28 178.91 L624.97 178.80 L626.65 178.72 L628.35 178.67 L630.05 178.64 L631.75 178.64 L633.45 178.66 L635.15 178.71 L636.86 178.78 L638.56 178.86 L640.26 178.97 L641.96 179.10 L643.66 179.24 L645.36 179.40 L647.05 179.57 L648.73 179.76 L650.42 179.97 L652.09 180.18 L653.77 180.41 L655.44 180.66 L657.11 180.91 L658.77 181.18 L660.43 181.45 L662.09 181.74 L663.74 182.04 L665.40 182.35 L667.05 182.67 L668.69 183.00 L670.34 183.33 L671.98 183.68 L673.62 184.03 L675.26 184.38 L676.90 184.75 L678.54 185.12 L680.17 185.50 L681.80 185.88 L683.43 186.26 L685.07 186.65 L686.70 187.05 L688.32 187.45 L689.95 187.85 L691.58 188.25 L693.21 188.65 L694.84 189.06 L696.46 189.47 L698.09 189.87 L699.72 190.28 L701.35 190.69 L702.98 191.09 L704.61 191.50 L706.24 191.90 L707.87 192.30 L709.50 192.70 L711.13 193.09 L712.77 193.49 L714.40 193.88 L716.04 194.27 L717.68 194.65 L719.31 195.04 L720.95 195.42 L722.59 195.80 L724.23 196.18 L725.87 196.55 L727.51 196.93 L729.15 197.29 L730.80 197.66 L732.44 198.03 L734.08 198.39 L735.73 198.75 L737.37 199.10 L739.02 199.45 L740.67 199.80 L742.32 200.15 L743.96 200.49 L745.61 200.84 L747.26 201.17 L748.92 201.51 L750.57 201.84 L752.22 202.17 L753.87 202.49 L755.52 202.81 L757.18 203.13 L758.83 203.45 L760.49 203.76 L762.15 204.06 L763.80 204.37 L765.46 204.67 L767.12 204.97 L768.78 205.26 L770.43 205.55 L772.09 205.83 L773.75 206.12 L775.42 206.39 L777.08 206.67 L778.74 206.94 L780.40 207.20 L782.06 207.46 L783.73 207.72 L785.39 207.98 L787.06 208.23 L788.72 208.47 L790.39 208.71 L792.05 208.95 L793.72 209.18 L795.39 209.41 L797.06 209.63 L798.72 209.85 L800.39 210.07 L802.06 210.28 L803.73 210.48 L805.40 210.68 L807.07 210.88 L808.74 211.07 L810.41 211.26 L812.09 211.44 L813.76 211.61 L815.43 211.79 L817.10 211.95 L818.78 212.12 L820.45 212.27 L822.13 212.42 L823.80 212.57 L825.48 212.71 L827.15 212.85 L828.83 212.98 L830.50 213.10 L832.18 213.22 L833.86 213.34 L835.53 213.45 L837.21 213.55 L838.89 213.65" fill="none" stroke="#ff0000" stroke-width="2.00" stroke-linejoin="round" stroke-linecap="butt" clip-path="url(#cbr)"/>
<path d="M536.76 -10.01 L536.83 -8.29 L536.91 -6.58 L536.98 -4.86 L537.06 -3.15 L537.13 -1.43 L537.20 0.28 L537.27 2.00 L537.34 3.71 L537.41 5.42 L537.48 7.14 L537.54 8.85 L537.61 10.56 L537.68 12.28 L537.74 13.99 L537.81 15.70 L537.87 17.42 L537.94 19.13 L538.00 20.84 L538.07 22.56 L538.13 24.27 L538.19 25.98 L538.26 27.69 L538.32 29.40 L538.39 31.12 L538.45 32.83 L538.51 34.54 L538.58 36.25 L538.64 37.96 L538.71 39.68 L538.77 41.39 L538.84 43.10 L538.90 44.81 L538.97 46.52 L539.03 48.23 L539.10 49.95 L539.17 51.66 L539.24 53.37 L539.30 55.08 L539.37 56.79 L539.44 58.50 L539.52 60.21 L539.59 61.92 L539.66 63.64 L539.73 65.35 L539.81 67.06 L539.89 68.77 L539.96 70.48 L540.04 72.19 L540.12 73.90 L540.20 75.61 L540.28 77.32 L540.37 79.04 L540.45 80.75 L540.54 82.46 L540.63 84.17 L540.72 85.88 L540.81 87.59 L540.90 89.30 L541.00 91.01 L541.09 92.73 L541.19 94.44 L541.29 96.15 L541.39 97.86 L541.50 99.57 L541.60 101.28 L541.71 102.99 L541.82 104.71 L541.94 106.42 L542.05 108.13 L542.17 109.84 L542.29 111.55 L542.41 113.26 L542.53 114.98 L542.66 116.69 L542.79 118.40 L542.92 120.11 L543.05 121.82 L543.19 123.54 L543.33 125.25 L543.48 126.96 L543.62 128.67 L543.77 130.38 L543.92 132.09 L544.08 133.80 L544.24 135.51 L544.40 137.21 L544.57 138.92 L544.73 140.63 L544.91 142.33 L545.08 144.04 L545.26 145.75 L545.45 147.45 L545.63 149.15 L545.82 150.86 L546.02 152.56 L546.22 154.26 L546.42 155.96 L546.63 157.66 L546.84 159.35 L547.06 161.05 L547.27 162.75 L547.50 164.44 L547.73 166.13 L547.96 167.82 L548.20 169.52 L548.44 171.20 L548.69 172.89 L548.94 174.58 L549.20 176.26 L549.46 177.95 L549.73 179.63 L550.00 181.31 L550.29 182.99 L550.60 184.66 L550.92 186.34 L551.26 188.01 L551.63 189.67 L552.02 191.34 L552.45 193.00 L552.90 194.66 L553.39 196.31 L553.92 197.97 L554.49 199.61 L555.11 201.26 L555.77 202.89 L556.48 204.53 L557.25 206.16 L558.08 207.76 L558.98 209.30 L559.96 210.75 L561.04 212.09 L562.22 213.26 L563.51 214.25 L564.93 215.03 L566.48 215.55 L568.11 215.81 L569.74 215.77 L571.36 215.47 L572.96 214.98 L574.55 214.33 L576.11 213.60 L577.66 212.83 L579.18 212.02 L580.69 211.19 L582.19 210.33 L583.67 209.44 L585.14 208.54 L586.61 207.62 L588.06 206.69 L589.51 205.75 L590.96 204.81 L592.41 203.87 L593.85 202.93 L595.30 202.00 L596.76 201.08 L598.21 200.18 L599.68 199.30 L601.16 198.44 L602.65 197.60 L604.15 196.80 L605.66 196.03 L607.20 195.29 L608.75 194.60 L610.32 193.95 L611.91 193.34 L613.51 192.77 L615.13 192.23 L616.76 191.73 L618.41 191.27 L620.07 190.84 L621.73 190.44 L623.41 190.07 L625.10 189.74 L626.79 189.43 L628.49 189.16 L630.20 188.91 L631.91 188.69 L633.62 188.49 L635.33 188.32 L637.05 188.17 L638.77 188.04 L640.48 187.94 L642.20 187.85 L643.91 187.79 L645.62 187.74 L647.34 187.72 L649.05 187.71 L650.76 187.72 L652.47 187.75 L654.18 187.80 L655.89 187.86 L657.60 187.93 L659.31 188.03 L661.02 188.13 L662.72 188.26 L664.43 188.39 L666.13 188.54 L667.84 188.70 L669.54 188.87 L671.24 189.06 L672.95 189.25 L674.65 189.46 L676.35 189.68 L678.05 189.90 L679.74 190.13 L681.44 190.38 L683.14 190.63 L684.83 190.88 L686.53 191.15 L688.22 191.42 L689.91 191.69 L691.61 191.97 L693.30 192.26 L694.99 192.55 L696.68 192.84 L698.36 193.14 L700.05 193.44 L701.74 193.74 L703.42 194.05 L705.11 194.36 L706.79 194.68 L708.48 194.99 L710.16 195.31 L711.85 195.64 L713.53 195.96 L715.21 196.29 L716.89 196.61 L718.57 196.94 L720.25 197.27 L721.94 197.61 L723.62 197.94 L725.30 198.27 L726.98 198.61 L728.66 198.94 L730.34 199.27 L732.02 199.61 L733.70 199.94 L735.38 200.27 L737.06 200.61 L738.74 200.94 L740.42 201.27 L742.10 201.60 L743.79 201.92 L745.47 202.25 L747.15 202.57 L748.83 202.89 L750.52 203.21 L752.20 203.52 L753.88 203.84 L755.57 204.14 L757.25 204.45 L758.94 204.75 L760.63 205.05 L762.31 205.35 L764.00 205.64 L765.69 205.92 L767.38 206.20 L769.07 206.48 L770.76 206.75 L772.46 207.02 L774.15 207.28 L775.84 207.54 L777.54 207.79 L779.24 208.04 L780.93 208.28 L782.63 208.52 L784.33 208.75 L786.03 208.98 L787.73 209.21 L789.43 209.43 L791.13 209.65 L792.83 209.86 L794.53 210.07 L796.24 210.27 L797.94 210.47 L799.64 210.67 L801.35 210.86 L803.05 211.05 L804.76 211.23 L806.46 211.41 L808.17 211.59 L809.87 211.76 L811.58 211.93 L813.29 212.10 L814.99 212.26 L816.70 212.42 L818.41 212.58 L820.11 212.73 L821.82 212.88 L823.53 213.03 L825.24 213.17 L826.94 213.31 L828.65 213.45 L830.36 213.59 L832.07 213.72 L833.77 213.85 L835.48 213.97 L837.19 214.10 L838.90 214.22" fill="none" stroke="#ff8000" stroke-width="2.00" stroke-linejoin="round" stroke-linecap="butt" clip-path="url(#cb)"/>
<path d="M509.50 221.50v-2.50 M509.50 9.50v2.50 M528.50 221.50v-2.50 M528.50 9.50v2.50 M548.50 221.50v-2.50 M548.50 9.50v2.50 M567.50 221.50v-2.50 M567.50 9.50v2.50 M606.50 221.50v-2.50 M606.50 9.50v2.50 M626.50 221.50v-2.50 M626.50 9.50v2.50 M645.50 221.50v-2.50 M645.50 9.50v2.50 M664.50 221.50v-2.50 M664.50 9.50v2.50 M703.50 221.50v-2.50 M703.50 9.50v2.50 M723.50 221.50v-2.50 M723.50 9.50v2.50 M742.50 221.50v-2.50 M742.50 9.50v2.50 M761.50 221.50v-2.50 M761.50 9.50v2.50 M800.50 221.50v-2.50 M800.50 9.50v2.50 M820.50 221.50v-2.50 M820.50 9.50v2.50 M839.50 221.50v-2.50 M839.50 9.50v2.50 M587.50 221.50v-4.20 M587.50 9.50v4.20 M684.50 221.50v-4.20 M684.50 9.50v4.20 M781.50 221.50v-4.20 M781.50 9.50v4.20 M501.50 212.50h2.50 M845.50 212.50h-2.50 M501.50 203.50h2.50 M845.50 203.50h-2.50 M501.50 195.50h2.50 M845.50 195.50h-2.50 M501.50 177.50h2.50 M845.50 177.50h-2.50 M501.50 168.50h2.50 M845.50 168.50h-2.50 M501.50 159.50h2.50 M845.50 159.50h-2.50 M501.50 142.50h2.50 M845.50 142.50h-2.50 M501.50 133.50h2.50 M845.50 133.50h-2.50 M501.50 124.50h2.50 M845.50 124.50h-2.50 M501.50 106.50h2.50 M845.50 106.50h-2.50 M501.50 97.50h2.50 M845.50 97.50h-2.50 M501.50 89.50h2.50 M845.50 89.50h-2.50 M501.50 71.50h2.50 M845.50 71.50h-2.50 M501.50 62.50h2.50 M845.50 62.50h-2.50 M501.50 53.50h2.50 M845.50 53.50h-2.50 M501.50 36.50h2.50 M845.50 36.50h-2.50 M501.50 27.50h2.50 M845.50 27.50h-2.50 M501.50 18.50h2.50 M845.50 18.50h-2.50 M501.50 221.50h4.20 M845.50 221.50h-4.20 M501.50 186.50h4.20 M845.50 186.50h-4.20 M501.50 150.50h4.20 M845.50 150.50h-4.20 M501.50 115.50h4.20 M845.50 115.50h-4.20 M501.50 80.50h4.20 M845.50 80.50h-4.20 M501.50 44.50h4.20 M845.50 44.50h-4.20 M501.50 9.50h4.20 M845.50 9.50h-4.20" stroke="#666" stroke-width="0.50" fill="none"/>
<path d="M501.50 9.25V221.75" stroke="#666" stroke-width="0.50" fill="none"/>
<path d="M845.50 9.25V221.75" stroke="#666" stroke-width="0.50" fill="none"/>
<path d="M501.25 9.50H845.75" stroke="#666" stroke-width="0.50" fill="none"/>
<path d="M501.25 221.50H845.75" stroke="#666" stroke-width="0.50" fill="none"/>
<path d="M175.93 270.04 L175.96 271.01 L175.99 271.99 L176.02 272.96 L176.04 273.93 L176.07 274.91 L176.10 275.88 L176.12 276.86 L176.15 277.83 L176.17 278.81 L176.19 279.78 L176.22 280.76 L176.24 281.74 L176.26 282.71 L176.28 283.69 L176.30 284.66 L176.32 285.64 L176.34 286.62 L176.36 287.59 L176.38 288.57 L176.40 289.55 L176.42 290.53 L176.44 291.50 L176.45 292.48 L176.47 293.46 L176.49 294.44 L176.50 295.42 L176.52 296.39 L176.53 297.37 L176.55 298.35 L176.56 299.33 L176.58 300.31 L176.59 301.29 L176.61 302.27 L176.62 303.25 L176.63 304.23 L176.64 305.21 L176.66 306.18 L176.67 307.16 L176.68 308.14 L176.69 309.12 L176.70 310.10 L176.71 311.09 L176.73 312.07 L176.74 313.05 L176.75 314.03 L176.76 315.01 L176.77 315.99 L176.78 316.97 L176.79 317.95 L176.80 318.93 L176.80 319.91 L176.81 320.89 L176.82 321.87 L176.83 322.86 L176.84 323.84 L176.85 324.82 L176.86 325.80 L176.87 326.78 L176.87 327.76 L176.88 328.75 L176.89 329.73 L176.90 330.71 L176.91 331.69 L176.91 332.67 L176.92 333.66 L176.93 334.64 L176.94 335.62 L176.94 336.60 L176.95 337.58 L176.96 338.57 L176.97 339.55 L176.98 340.53 L176.98 341.51 L176.99 342.50 L177.00 343.48 L177.01 344.46 L177.01 345.44 L177.02 346.43 L177.03 347.41 L177.04 348.39 L177.05 349.37 L177.06 350.36 L177.06 351.34 L177.07 352.32 L177.08 353.30 L177.09 354.29 L177.10 355.27 L177.11 356.25 L177.12 357.23 L177.13 358.22 L177.14 359.20 L177.15 360.18 L177.16 361.16 L177.17 362.15 L177.18 363.13 L177.19 364.11 L177.20 365.09 L177.21 366.08 L177.22 367.06 L177.24 368.04 L177.25 369.02 L177.26 370.01 L177.27 370.99 L177.29 371.97 L177.30 372.95 L177.31 373.93 L177.33 374.92 L177.34 375.90 L177.36 376.88 L177.37 377.86 L177.39 378.84 L177.40 379.82 L177.42 380.81 L177.44 381.79 L177.45 382.77 L177.47 383.75 L177.49 384.73 L177.51 385.71 L177.53 386.69 L177.55 387.67 L177.57 388.65 L177.59 389.63 L177.61 390.62 L177.63 391.60 L177.65 392.58 L177.67 393.56 L177.69 394.54 L177.72 395.52 L177.74 396.50 L177.77 397.48 L177.79 398.46 L177.82 399.44 L177.84 400.42 L177.87 401.40 L177.90 402.37 L177.92 403.35 L177.95 404.33 L177.98 405.31 L178.01 406.29 L178.04 407.27 L178.07 408.25 L178.10 409.23 L178.13 410.20 L178.17 411.18 L178.20 412.16 L178.23 413.14 L178.27 414.11 L178.30 415.09 L178.34 416.07 L178.38 417.05 L178.41 418.02 L178.45 419.00 L178.49 419.98 L178.53 420.95 L178.57 421.93 L178.61 422.90 L178.66 423.88 L178.70 424.86 L178.74 425.83 L178.79 426.81 L178.83 427.78 L178.88 428.76 L178.93 429.73 L178.97 430.71 L179.02 431.68 L179.07 432.65 L179.12 433.63 L179.17 434.60 L179.23 435.57 L179.28 436.55 L179.33 437.52 L179.39 438.49 L179.44 439.47 L179.50 440.44 L179.56 441.41 L179.62 442.38 L179.68 443.35 L179.74 444.33 L179.80 445.30 L179.86 446.27 L179.92 447.24 L179.98 448.21 L180.04 449.18 L180.11 450.16 L180.17 451.13 L180.23 452.10 L180.29 453.08 L180.36 454.05 L180.42 455.02 L180.48 456.00 L180.55 456.97 L180.61 457.95 L180.67 458.93 L180.73 459.90 L180.79 460.88 L180.85 461.86 L180.91 462.84 L180.97 463.82 L181.03 464.80 L181.09 465.79 L181.15 466.77 L181.20 467.75 L181.26 468.74 L181.31 469.73 L181.37 470.71 L181.42 471.70 L181.47 472.69 L181.52 473.68 L181.57 474.68 L181.61 475.67 L181.66 476.67 L181.70 477.67 L181.75 478.67 L181.79 479.67 L181.82 480.67 L181.86 481.67 L181.90 482.68 L181.93 483.69 L181.97 484.69 L182.01 485.70 L182.06 486.70 L182.11 487.70 L182.18 488.70 L182.25 489.70 L182.33 490.69 L182.43 491.68 L182.55 492.66 L182.68 493.63 L182.83 494.60 L183.00 495.56 L183.19 496.51 L183.41 497.45 L183.65 498.38 L183.92 499.29 L184.22 500.20 L184.55 501.10 L184.91 501.98 L185.31 502.84 L185.74 503.70 L186.20 504.53 L186.70 505.35 L187.24 506.14 L187.80 506.91 L188.40 507.66 L189.03 508.37 L189.69 509.06 L190.39 509.72 L191.11 510.34 L191.87 510.93 L192.65 511.48 L193.47 511.99 L194.31 512.46 L195.17 512.90 L196.06 513.29 L196.96 513.65 L197.89 513.98 L198.83 514.27 L199.78 514.53 L200.75 514.76 L201.72 514.96 L202.70 515.14 L203.69 515.30 L204.68 515.44 L205.68 515.56 L206.67 515.67 L207.66 515.76 L208.66 515.85 L209.65 515.92 L210.63 515.98 L211.62 516.04 L212.60 516.08 L213.59 516.12 L214.57 516.15 L215.55 516.17 L216.53 516.19 L217.51 516.20 L218.49 516.21 L219.46 516.21 L220.44 516.21 L221.42 516.21 L222.39 516.20 L223.37 516.19 L224.34 516.19 L225.32 516.18 L226.29 516.17 L227.27 516.17 L228.24 516.16 L229.22 516.16 L230.19 516.16 L231.17 516.17 L232.15 516.18 L233.12 516.19 L234.10 516.21 L235.08 516.24 L236.06 516.27 L237.04 516.31 L238.03 516.36 L239.01 516.42 L240.00 516.49 L240.00 516.40 L240.50 516.40 L241.01 516.40 L241.51 516.40 L242.02 516.40 L242.52 516.40 L243.02 516.40 L243.53 516.40 L244.03 516.40 L244.54 516.40 L245.04 516.40 L245.54 516.40 L246.05 516.40 L246.55 516.40 L247.06 516.40 L247.56 516.40 L248.06 516.40 L248.57 516.40 L249.07 516.40 L249.58 516.40 L250.08 516.40 L250.58 516.40 L251.09 516.40 L251.59 516.40 L252.10 516.40 L252.60 516.40 L253.10 516.40 L253.61 516.40 L254.11 516.40 L254.62 516.40 L255.12 516.40 L255.62 516.40 L256.13 516.40 L256.63 516.40 L257.14 516.40 L257.64 516.40 L258.14 516.40 L258.65 516.40 L259.15 516.40 L259.66 516.40 L260.16 516.40 L260.66 516.40 L261.17 516.40 L261.67 516.40 L262.18 516.40 L262.68 516.40 L263.18 516.40 L263.69 516.40 L264.19 516.40 L264.70 516.40 L265.20 516.40 L265.70 516.40 L266.21 516.40 L266.71 516.40 L267.22 516.40 L267.72 516.40 L268.22 516.40 L268.73 516.40 L269.23 516.40 L269.74 516.40 L270.24 516.40 L270.74 516.40 L271.25 516.40 L271.75 516.40 L272.26 516.40 L272.76 516.40 L273.26 516.40 L273.77 516.40 L274.27 516.40 L274.78 516.40 L275.28 516.40 L275.78 516.40 L276.29 516.40 L276.79 516.40 L277.30 516.40 L277.80 516.40 L278.31 516.40 L278.81 516.40 L279.31 516.40 L279.82 516.40 L280.32 516.40 L280.83 516.40 L281.33 516.40 L281.83 516.40 L282.34 516.40 L282.84 516.40 L283.35 516.40 L283.85 516.40 L284.35 516.40 L284.86 516.40 L285.36 516.40 L285.87 516.40 L286.37 516.40 L286.87 516.40 L287.38 516.40 L287.88 516.40 L288.39 516.40 L288.89 516.40 L289.39 516.40 L289.90 516.40 L290.40 516.40 L290.91 516.40 L291.41 516.40 L291.91 516.40 L292.42 516.40 L292.92 516.40 L293.43 516.40 L293.93 516.40 L294.43 516.40 L294.94 516.40 L295.44 516.40 L295.95 516.40 L296.45 516.40 L296.95 516.40 L297.46 516.40 L297.96 516.40 L298.47 516.40 L298.97 516.40 L299.47 516.40 L299.98 516.40 L300.48 516.40 L300.99 516.40 L301.49 516.40 L301.99 516.40 L302.50 516.40 L303.00 516.40 L303.51 516.40 L304.01 516.40 L304.51 516.40 L305.02 516.40 L305.52 516.40 L306.03 516.40 L306.53 516.40 L307.03 516.40 L307.54 516.40 L308.04 516.40 L308.55 516.40 L309.05 516.40 L309.55 516.40 L310.06 516.40 L310.56 516.40 L311.07 516.40 L311.57 516.40 L312.07 516.40 L312.58 516.40 L313.08 516.40 L313.59 516.40 L314.09 516.40 L314.59 516.40 L315.10 516.40 L315.60 516.40 L316.11 516.40 L316.61 516.40 L317.11 516.40 L317.62 516.40 L318.12 516.40 L318.63 516.40 L319.13 516.40 L319.63 516.40 L320.14 516.40 L320.64 516.40 L321.15 516.40 L321.65 516.40 L322.15 516.40 L322.66 516.40 L323.16 516.40 L323.67 516.40 L324.17 516.40 L324.67 516.40 L325.18 516.40 L325.68 516.40 L326.19 516.40 L326.69 516.40 L327.19 516.40 L327.70 516.40 L328.20 516.40 L328.71 516.40 L329.21 516.40 L329.71 516.40 L330.22 516.40 L330.72 516.40 L331.23 516.40 L331.73 516.40 L332.23 516.40 L332.74 516.40 L333.24 516.40 L333.75 516.40 L334.25 516.40 L334.75 516.40 L335.26 516.40 L335.76 516.40 L336.27 516.40 L336.77 516.40 L337.27 516.40 L337.78 516.40 L338.28 516.40 L338.79 516.40 L339.29 516.40 L339.79 516.40 L340.30 516.40 L340.80 516.40 L341.31 516.40 L341.81 516.40 L342.31 516.40 L342.82 516.40 L343.32 516.40 L343.83 516.40 L344.33 516.40 L344.83 516.40 L345.34 516.40 L345.84 516.40 L346.35 516.40 L346.85 516.40 L347.35 516.40 L347.86 516.40 L348.36 516.40 L348.87 516.40 L349.37 516.40 L349.87 516.40 L350.38 516.40 L350.88 516.40 L351.39 516.40 L351.89 516.40 L352.39 516.40 L352.90 516.40 L353.40 516.40 L353.91 516.40 L354.41 516.40 L354.92 516.40 L355.42 516.40 L355.92 516.40 L356.43 516.40 L356.93 516.40 L357.44 516.40 L357.94 516.40 L358.44 516.40 L358.95 516.40 L359.45 516.40 L359.96 516.40 L360.46 516.40 L360.96 516.40 L361.47 516.40 L361.97 516.40 L362.48 516.40 L362.98 516.40 L363.48 516.40 L363.99 516.40 L364.49 516.40 L365.00 516.40 L365.50 516.40 L366.00 516.40 L366.51 516.40 L367.01 516.40 L367.52 516.40 L368.02 516.40 L368.52 516.40 L369.03 516.40 L369.53 516.40 L370.04 516.40 L370.54 516.40 L371.04 516.40 L371.55 516.40 L372.05 516.40 L372.56 516.40 L373.06 516.40 L373.56 516.40 L374.07 516.40 L374.57 516.40 L375.08 516.40 L375.58 516.40 L376.08 516.40 L376.59 516.40 L377.09 516.40 L377.60 516.40 L378.10 516.40 L378.60 516.40 L379.11 516.40 L379.61 516.40 L380.12 516.40 L380.62 516.40 L381.12 516.40 L381.63 516.40 L382.13 516.40 L382.64 516.40 L383.14 516.40 L383.64 516.40 L384.15 516.40 L384.65 516.40 L385.16 516.40 L385.66 516.40 L386.16 516.40 L386.67 516.40 L387.17 516.40 L387.68 516.40 L388.18 516.40 L388.68 516.40 L389.19 516.40 L389.69 516.40 L390.20 516.40 L390.70 516.40" fill="none" stroke="#0000ff" stroke-width="1.90" stroke-linejoin="round" stroke-linecap="butt" clip-path="url(#cc)"/>
<path d="M167.90 269.99 L167.93 270.97 L167.95 271.95 L167.98 272.94 L168.00 273.92 L168.02 274.90 L168.05 275.89 L168.07 276.87 L168.09 277.85 L168.12 278.84 L168.14 279.82 L168.16 280.80 L168.19 281.79 L168.21 282.77 L168.23 283.75 L168.25 284.73 L168.27 285.72 L168.30 286.70 L168.32 287.68 L168.34 288.67 L168.36 289.65 L168.38 290.63 L168.40 291.61 L168.42 292.60 L168.44 293.58 L168.46 294.56 L168.48 295.54 L168.50 296.52 L168.52 297.51 L168.54 298.49 L168.56 299.47 L168.58 300.45 L168.60 301.44 L168.62 302.42 L168.64 303.40 L168.66 304.38 L168.68 305.36 L168.70 306.35 L168.72 307.33 L168.74 308.31 L168.76 309.29 L168.78 310.27 L168.79 311.25 L168.81 312.24 L168.83 313.22 L168.85 314.20 L168.87 315.18 L168.89 316.16 L168.91 317.14 L168.92 318.13 L168.94 319.11 L168.96 320.09 L168.98 321.07 L169.00 322.05 L169.02 323.03 L169.04 324.01 L169.05 325.00 L169.07 325.98 L169.09 326.96 L169.11 327.94 L169.13 328.92 L169.15 329.90 L169.17 330.88 L169.18 331.86 L169.20 332.85 L169.22 333.83 L169.24 334.81 L169.26 335.79 L169.28 336.77 L169.30 337.75 L169.32 338.73 L169.34 339.71 L169.36 340.69 L169.37 341.68 L169.39 342.66 L169.41 343.64 L169.43 344.62 L169.45 345.60 L169.47 346.58 L169.49 347.56 L169.51 348.54 L169.53 349.52 L169.55 350.50 L169.57 351.48 L169.60 352.47 L169.62 353.45 L169.64 354.43 L169.66 355.41 L169.68 356.39 L169.70 357.37 L169.72 358.35 L169.75 359.33 L169.77 360.31 L169.79 361.29 L169.81 362.27 L169.83 363.25 L169.86 364.24 L169.88 365.22 L169.90 366.20 L169.93 367.18 L169.95 368.16 L169.97 369.14 L170.00 370.12 L170.02 371.10 L170.05 372.08 L170.07 373.06 L170.10 374.04 L170.12 375.02 L170.15 376.00 L170.18 376.99 L170.20 377.97 L170.23 378.95 L170.25 379.93 L170.28 380.91 L170.31 381.89 L170.34 382.87 L170.36 383.85 L170.39 384.83 L170.42 385.81 L170.45 386.79 L170.48 387.78 L170.51 388.76 L170.54 389.74 L170.57 390.72 L170.60 391.70 L170.63 392.68 L170.66 393.66 L170.69 394.64 L170.72 395.62 L170.76 396.60 L170.79 397.58 L170.82 398.57 L170.86 399.55 L170.89 400.53 L170.92 401.51 L170.96 402.49 L170.99 403.47 L171.03 404.45 L171.06 405.43 L171.10 406.41 L171.14 407.40 L171.17 408.38 L171.21 409.36 L171.25 410.34 L171.29 411.32 L171.33 412.30 L171.36 413.28 L171.40 414.26 L171.44 415.25 L171.48 416.23 L171.53 417.21 L171.57 418.19 L171.61 419.17 L171.65 420.15 L171.69 421.14 L171.74 422.12 L171.78 423.10 L171.83 424.08 L171.87 425.06 L171.92 426.04 L171.96 427.03 L172.01 428.01 L172.05 428.99 L172.10 429.97 L172.15 430.95 L172.20 431.93 L172.25 432.92 L172.30 433.90 L172.35 434.88 L172.40 435.86 L172.45 436.84 L172.50 437.83 L172.55 438.81 L172.61 439.79 L172.66 440.77 L172.71 441.76 L172.77 442.74 L172.83 443.72 L172.88 444.70 L172.94 445.68 L173.00 446.67 L173.06 447.65 L173.13 448.63 L173.19 449.61 L173.26 450.59 L173.33 451.57 L173.40 452.55 L173.48 453.53 L173.55 454.51 L173.63 455.49 L173.72 456.47 L173.80 457.45 L173.89 458.43 L173.99 459.41 L174.08 460.39 L174.18 461.36 L174.29 462.34 L174.40 463.32 L174.51 464.29 L174.62 465.27 L174.74 466.24 L174.87 467.21 L175.00 468.19 L175.13 469.16 L175.27 470.13 L175.42 471.10 L175.57 472.07 L175.73 473.04 L175.89 474.01 L176.05 474.97 L176.23 475.94 L176.41 476.91 L176.59 477.87 L176.78 478.83 L176.98 479.80 L177.18 480.76 L177.40 481.72 L177.61 482.68 L177.84 483.64 L178.07 484.59 L178.31 485.55 L178.56 486.50 L178.81 487.46 L179.08 488.41 L179.35 489.36 L179.63 490.31 L179.91 491.26 L180.21 492.21 L180.51 493.15 L180.83 494.09 L181.15 495.03 L181.49 495.96 L181.85 496.88 L182.22 497.79 L182.61 498.69 L183.01 499.57 L183.44 500.44 L183.89 501.30 L184.36 502.13 L184.86 502.95 L185.38 503.74 L185.94 504.50 L186.52 505.25 L187.13 505.96 L187.77 506.65 L188.45 507.30 L189.17 507.93 L189.91 508.52 L190.70 509.07 L191.51 509.60 L192.35 510.09 L193.21 510.56 L194.10 510.99 L195.01 511.40 L195.93 511.77 L196.87 512.13 L197.81 512.45 L198.77 512.75 L199.74 513.03 L200.71 513.28 L201.69 513.52 L202.67 513.73 L203.66 513.93 L204.66 514.11 L205.65 514.28 L206.65 514.43 L207.65 514.57 L208.66 514.70 L209.66 514.82 L210.66 514.93 L211.65 515.04 L212.65 515.13 L213.64 515.23 L214.62 515.32 L215.60 515.41 L216.58 515.49 L217.56 515.57 L218.53 515.65 L219.50 515.72 L220.47 515.79 L221.43 515.86 L222.40 515.92 L223.36 515.98 L224.33 516.04 L225.29 516.09 L226.26 516.14 L227.22 516.19 L228.19 516.23 L229.16 516.27 L230.13 516.31 L231.10 516.34 L232.07 516.37 L233.05 516.40 L234.03 516.43 L235.02 516.45 L236.01 516.46 L237.00 516.48 L238.01 516.49 L239.01 516.50 L240.02 516.50 L240.00 516.50 L240.50 516.50 L241.01 516.50 L241.51 516.50 L242.02 516.50 L242.52 516.50 L243.02 516.50 L243.53 516.50 L244.03 516.50 L244.54 516.50 L245.04 516.50 L245.54 516.50 L246.05 516.50 L246.55 516.50 L247.06 516.50 L247.56 516.50 L248.06 516.50 L248.57 516.50 L249.07 516.50 L249.58 516.50 L250.08 516.50 L250.58 516.50 L251.09 516.50 L251.59 516.50 L252.10 516.50 L252.60 516.50 L253.10 516.50 L253.61 516.50 L254.11 516.50 L254.62 516.50 L255.12 516.50 L255.62 516.50 L256.13 516.50 L256.63 516.50 L257.14 516.50 L257.64 516.50 L258.14 516.50 L258.65 516.50 L259.15 516.50 L259.66 516.50 L260.16 516.50 L260.66 516.50 L261.17 516.50 L261.67 516.50 L262.18 516.50 L262.68 516.50 L263.18 516.50 L263.69 516.50 L264.19 516.50 L264.70 516.50 L265.20 516.50 L265.70 516.50 L266.21 516.50 L266.71 516.50 L267.22 516.50 L267.72 516.50 L268.22 516.50 L268.73 516.50 L269.23 516.50 L269.74 516.50 L270.24 516.50 L270.74 516.50 L271.25 516.50 L271.75 516.50 L272.26 516.50 L272.76 516.50 L273.26 516.50 L273.77 516.50 L274.27 516.50 L274.78 516.50 L275.28 516.50 L275.78 516.50 L276.29 516.50 L276.79 516.50 L277.30 516.50 L277.80 516.50 L278.31 516.50 L278.81 516.50 L279.31 516.50 L279.82 516.50 L280.32 516.50 L280.83 516.50 L281.33 516.50 L281.83 516.50 L282.34 516.50 L282.84 516.50 L283.35 516.50 L283.85 516.50 L284.35 516.50 L284.86 516.50 L285.36 516.50 L285.87 516.50 L286.37 516.50 L286.87 516.50 L287.38 516.50 L287.88 516.50 L288.39 516.50 L288.89 516.50 L289.39 516.50 L289.90 516.50 L290.40 516.50 L290.91 516.50 L291.41 516.50 L291.91 516.50 L292.42 516.50 L292.92 516.50 L293.43 516.50 L293.93 516.50 L294.43 516.50 L294.94 516.50 L295.44 516.50 L295.95 516.50 L296.45 516.50 L296.95 516.50 L297.46 516.50 L297.96 516.50 L298.47 516.50 L298.97 516.50 L299.47 516.50 L299.98 516.50 L300.48 516.50 L300.99 516.50 L301.49 516.50 L301.99 516.50 L302.50 516.50 L303.00 516.50 L303.51 516.50 L304.01 516.50 L304.51 516.50 L305.02 516.50 L305.52 516.50 L306.03 516.50 L306.53 516.50 L307.03 516.50 L307.54 516.50 L308.04 516.50 L308.55 516.50 L309.05 516.50 L309.55 516.50 L310.06 516.50 L310.56 516.50 L311.07 516.50 L311.57 516.50 L312.07 516.50 L312.58 516.50 L313.08 516.50 L313.59 516.50 L314.09 516.50 L314.59 516.50 L315.10 516.50 L315.60 516.50 L316.11 516.50 L316.61 516.50 L317.11 516.50 L317.62 516.50 L318.12 516.50 L318.63 516.50 L319.13 516.50 L319.63 516.50 L320.14 516.50 L320.64 516.50 L321.15 516.50 L321.65 516.50 L322.15 516.50 L322.66 516.50 L323.16 516.50 L323.67 516.50 L324.17 516.50 L324.67 516.50 L325.18 516.50 L325.68 516.50 L326.19 516.50 L326.69 516.50 L327.19 516.50 L327.70 516.50 L328.20 516.50 L328.71 516.50 L329.21 516.50 L329.71 516.50 L330.22 516.50 L330.72 516.50 L331.23 516.50 L331.73 516.50 L332.23 516.50 L332.74 516.50 L333.24 516.50 L333.75 516.50 L334.25 516.50 L334.75 516.50 L335.26 516.50 L335.76 516.50 L336.27 516.50 L336.77 516.50 L337.27 516.50 L337.78 516.50 L338.28 516.50 L338.79 516.50 L339.29 516.50 L339.79 516.50 L340.30 516.50 L340.80 516.50 L341.31 516.50 L341.81 516.50 L342.31 516.50 L342.82 516.50 L343.32 516.50 L343.83 516.50 L344.33 516.50 L344.83 516.50 L345.34 516.50 L345.84 516.50 L346.35 516.50 L346.85 516.50 L347.35 516.50 L347.86 516.50 L348.36 516.50 L348.87 516.50 L349.37 516.50 L349.87 516.50 L350.38 516.50 L350.88 516.50 L351.39 516.50 L351.89 516.50 L352.39 516.50 L352.90 516.50 L353.40 516.50 L353.91 516.50 L354.41 516.50 L354.92 516.50 L355.42 516.50 L355.92 516.50 L356.43 516.50 L356.93 516.50 L357.44 516.50 L357.94 516.50 L358.44 516.50 L358.95 516.50 L359.45 516.50 L359.96 516.50 L360.46 516.50 L360.96 516.50 L361.47 516.50 L361.97 516.50 L362.48 516.50 L362.98 516.50 L363.48 516.50 L363.99 516.50 L364.49 516.50 L365.00 516.50 L365.50 516.50 L366.00 516.50 L366.51 516.50 L367.01 516.50 L367.52 516.50 L368.02 516.50 L368.52 516.50 L369.03 516.50 L369.53 516.50 L370.04 516.50 L370.54 516.50 L371.04 516.50 L371.55 516.50 L372.05 516.50 L372.56 516.50 L373.06 516.50 L373.56 516.50 L374.07 516.50 L374.57 516.50 L375.08 516.50 L375.58 516.50 L376.08 516.50 L376.59 516.50 L377.09 516.50 L377.60 516.50 L378.10 516.50 L378.60 516.50 L379.11 516.50 L379.61 516.50 L380.12 516.50 L380.62 516.50 L381.12 516.50 L381.63 516.50 L382.13 516.50 L382.64 516.50 L383.14 516.50 L383.64 516.50 L384.15 516.50 L384.65 516.50 L385.16 516.50 L385.66 516.50 L386.16 516.50 L386.67 516.50 L387.17 516.50 L387.68 516.50 L388.18 516.50 L388.68 516.50 L389.19 516.50 L389.69 516.50 L390.20 516.50 L390.70 516.50" fill="none" stroke="#ff0000" stroke-width="1.90" stroke-linejoin="round" stroke-linecap="butt" clip-path="url(#cc)"/>
<path d="M73.50 516.50v-2.50 M73.50 297.00v2.50 M84.50 516.50v-2.50 M84.50 297.00v2.50 M95.50 516.50v-2.50 M95.50 297.00v2.50 M106.50 516.50v-2.50 M106.50 297.00v2.50 M128.50 516.50v-2.50 M128.50 297.00v2.50 M138.50 516.50v-2.50 M138.50 297.00v2.50 M149.50 516.50v-2.50 M149.50 297.00v2.50 M160.50 516.50v-2.50 M160.50 297.00v2.50 M182.50 516.50v-2.50 M182.50 297.00v2.50 M193.50 516.50v-2.50 M193.50 297.00v2.50 M204.50 516.50v-2.50 M204.50 297.00v2.50 M215.50 516.50v-2.50 M215.50 297.00v2.50 M237.50 516.50v-2.50 M237.50 297.00v2.50 M248.50 516.50v-2.50 M248.50 297.00v2.50 M259.50 516.50v-2.50 M259.50 297.00v2.50 M270.50 516.50v-2.50 M270.50 297.00v2.50 M291.50 516.50v-2.50 M291.50 297.00v2.50 M302.50 516.50v-2.50 M302.50 297.00v2.50 M313.50 516.50v-2.50 M313.50 297.00v2.50 M324.50 516.50v-2.50 M324.50 297.00v2.50 M346.50 516.50v-2.50 M346.50 297.00v2.50 M357.50 516.50v-2.50 M357.50 297.00v2.50 M368.50 516.50v-2.50 M368.50 297.00v2.50 M379.50 516.50v-2.50 M379.50 297.00v2.50 M401.50 516.50v-2.50 M401.50 297.00v2.50 M412.50 516.50v-2.50 M412.50 297.00v2.50 M62.50 516.50v-4.20 M62.50 297.00v4.20 M117.50 516.50v-4.20 M117.50 297.00v4.20 M171.50 516.50v-4.20 M171.50 297.00v4.20 M226.50 516.50v-4.20 M226.50 297.00v4.20 M280.50 516.50v-4.20 M280.50 297.00v4.20 M335.50 516.50v-4.20 M335.50 297.00v4.20 M390.50 516.50v-4.20 M390.50 297.00v4.20 M62.50 504.50h2.50 M417.50 504.50h-2.50 M62.50 492.50h2.50 M417.50 492.50h-2.50 M62.50 479.50h2.50 M417.50 479.50h-2.50 M62.50 455.50h2.50 M417.50 455.50h-2.50 M62.50 443.50h2.50 M417.50 443.50h-2.50 M62.50 431.50h2.50 M417.50 431.50h-2.50 M62.50 406.50h2.50 M417.50 406.50h-2.50 M62.50 394.50h2.50 M417.50 394.50h-2.50 M62.50 382.50h2.50 M417.50 382.50h-2.50 M62.50 357.50h2.50 M417.50 357.50h-2.50 M62.50 345.50h2.50 M417.50 345.50h-2.50 M62.50 333.50h2.50 M417.50 333.50h-2.50 M62.50 309.50h2.50 M417.50 309.50h-2.50 M62.50 516.50h4.20 M417.50 516.50h-4.20 M62.50 467.50h4.20 M417.50 467.50h-4.20 M62.50 418.50h4.20 M417.50 418.50h-4.20 M62.50 370.50h4.20 M417.50 370.50h-4.20 M62.50 321.50h4.20 M417.50 321.50h-4.20" stroke="#666" stroke-width="0.50" fill="none"/>
<path d="M62.50 296.75V516.75" stroke="#666" stroke-width="0.75" fill="none"/>
<path d="M417.50 296.75V516.75" stroke="#666" stroke-width="0.80" fill="none"/>
<path d="M62.25 297.00H417.75" stroke="#666" stroke-width="0.50" fill="none"/>
<path d="M62.25 516.50H417.75" stroke="#666" stroke-width="0.45" fill="none"/>
<path d="M532.55 270.02 L532.56 270.98 L532.56 271.94 L532.57 272.90 L532.57 273.86 L532.57 274.83 L532.58 275.79 L532.58 276.75 L532.59 277.71 L532.59 278.68 L532.60 279.64 L532.60 280.60 L532.61 281.57 L532.61 282.53 L532.62 283.49 L532.63 284.45 L532.63 285.42 L532.64 286.38 L532.64 287.34 L532.65 288.31 L532.66 289.27 L532.66 290.23 L532.67 291.20 L532.68 292.16 L532.69 293.12 L532.69 294.09 L532.70 295.05 L532.71 296.02 L532.72 296.98 L532.72 297.94 L532.73 298.91 L532.74 299.87 L532.75 300.84 L532.76 301.80 L532.76 302.76 L532.77 303.73 L532.78 304.69 L532.79 305.66 L532.80 306.62 L532.81 307.59 L532.82 308.55 L532.83 309.52 L532.84 310.48 L532.85 311.44 L532.86 312.41 L532.87 313.37 L532.88 314.34 L532.89 315.30 L532.90 316.27 L532.91 317.23 L532.92 318.20 L532.93 319.16 L532.94 320.13 L532.95 321.09 L532.96 322.06 L532.97 323.02 L532.98 323.99 L533.00 324.95 L533.01 325.92 L533.02 326.88 L533.03 327.85 L533.04 328.81 L533.05 329.78 L533.07 330.74 L533.08 331.71 L533.09 332.67 L533.10 333.64 L533.12 334.61 L533.13 335.57 L533.14 336.54 L533.16 337.50 L533.17 338.47 L533.18 339.43 L533.20 340.40 L533.21 341.36 L533.22 342.33 L533.24 343.29 L533.25 344.26 L533.26 345.22 L533.28 346.19 L533.29 347.16 L533.31 348.12 L533.32 349.09 L533.34 350.05 L533.35 351.02 L533.37 351.98 L533.38 352.95 L533.40 353.91 L533.41 354.88 L533.43 355.85 L533.44 356.81 L533.46 357.78 L533.47 358.74 L533.49 359.71 L533.51 360.67 L533.52 361.64 L533.54 362.60 L533.55 363.57 L533.57 364.54 L533.59 365.50 L533.60 366.47 L533.62 367.43 L533.64 368.40 L533.65 369.36 L533.67 370.33 L533.69 371.29 L533.71 372.26 L533.72 373.22 L533.74 374.19 L533.76 375.15 L533.78 376.12 L533.79 377.09 L533.81 378.05 L533.83 379.02 L533.85 379.98 L533.87 380.95 L533.88 381.91 L533.90 382.88 L533.92 383.84 L533.94 384.81 L533.96 385.77 L533.98 386.74 L534.00 387.70 L534.02 388.67 L534.04 389.63 L534.06 390.60 L534.08 391.56 L534.09 392.53 L534.11 393.49 L534.13 394.46 L534.15 395.42 L534.17 396.38 L534.19 397.35 L534.21 398.31 L534.23 399.28 L534.26 400.24 L534.28 401.21 L534.30 402.17 L534.32 403.14 L534.34 404.10 L534.36 405.06 L534.38 406.03 L534.40 406.99 L534.42 407.96 L534.44 408.92 L534.47 409.88 L534.49 410.85 L534.51 411.81 L534.53 412.78 L534.55 413.74 L534.57 414.70 L534.60 415.67 L534.62 416.63 L534.64 417.59 L534.66 418.56 L534.69 419.52 L534.71 420.48 L534.73 421.45 L534.75 422.41 L534.78 423.37 L534.80 424.34 L534.82 425.30 L534.85 426.26 L534.87 427.23 L534.89 428.19 L534.92 429.15 L534.94 430.11 L534.96 431.08 L534.99 432.04 L535.01 433.00 L535.03 433.96 L535.06 434.93 L535.08 435.89 L535.11 436.85 L535.13 437.81 L535.16 438.77 L535.18 439.74 L535.20 440.70 L535.23 441.66 L535.25 442.62 L535.28 443.58 L535.30 444.54 L535.33 445.51 L535.36 446.47 L535.38 447.43 L535.41 448.39 L535.44 449.35 L535.47 450.31 L535.50 451.28 L535.53 452.24 L535.56 453.20 L535.60 454.16 L535.63 455.12 L535.67 456.08 L535.70 457.05 L535.74 458.01 L535.78 458.97 L535.82 459.93 L535.87 460.89 L535.91 461.86 L535.96 462.82 L536.00 463.78 L536.05 464.75 L536.11 465.71 L536.16 466.67 L536.21 467.64 L536.27 468.60 L536.33 469.56 L536.39 470.53 L536.46 471.49 L536.53 472.46 L536.59 473.42 L536.67 474.39 L536.74 475.35 L536.82 476.32 L536.90 477.28 L536.98 478.25 L537.07 479.22 L537.15 480.18 L537.24 481.15 L537.34 482.12 L537.44 483.09 L537.54 484.06 L537.64 485.03 L537.75 485.99 L537.86 486.96 L537.97 487.93 L538.09 488.90 L538.21 489.88 L538.34 490.85 L538.47 491.82 L538.60 492.79 L538.74 493.76 L538.88 494.74 L539.02 495.71 L539.18 496.68 L539.34 497.65 L539.52 498.61 L539.71 499.56 L539.92 500.50 L540.16 501.43 L540.42 502.35 L540.70 503.25 L541.02 504.13 L541.37 504.99 L541.75 505.82 L542.17 506.64 L542.64 507.42 L543.15 508.18 L543.70 508.91 L544.30 509.60 L544.95 510.27 L545.64 510.89 L546.37 511.48 L547.13 512.03 L547.93 512.54 L548.76 513.01 L549.62 513.45 L550.51 513.85 L551.41 514.21 L552.34 514.54 L553.29 514.84 L554.25 515.11 L555.22 515.35 L556.19 515.57 L557.18 515.76 L558.16 515.92 L559.15 516.06 L560.13 516.19 L561.11 516.29 L562.09 516.37 L563.06 516.44 L564.03 516.49 L565.00 516.53 L565.96 516.55 L566.93 516.57 L567.89 516.57 L568.85 516.56 L569.81 516.54 L570.77 516.52 L571.72 516.49 L572.68 516.46 L573.64 516.42 L574.59 516.38 L575.55 516.35 L576.50 516.31 L577.46 516.27 L578.41 516.24 L579.37 516.21 L580.33 516.19 L581.29 516.18 L582.25 516.17 L583.21 516.17 L584.17 516.19 L585.13 516.21 L586.10 516.25 L587.07 516.31 L588.04 516.38 L589.02 516.46 L590.00 516.57 L590.00 516.50 L590.82 516.50 L591.64 516.50 L592.47 516.50 L593.29 516.50 L594.11 516.50 L594.93 516.50 L595.75 516.50 L596.58 516.50 L597.40 516.50 L598.22 516.50 L599.04 516.50 L599.86 516.50 L600.69 516.50 L601.51 516.50 L602.33 516.50 L603.15 516.50 L603.98 516.50 L604.80 516.50 L605.62 516.50 L606.44 516.50 L607.26 516.50 L608.09 516.50 L608.91 516.50 L609.73 516.50 L610.55 516.50 L611.37 516.50 L612.20 516.50 L613.02 516.50 L613.84 516.50 L614.66 516.50 L615.48 516.50 L616.31 516.50 L617.13 516.50 L617.95 516.50 L618.77 516.50 L619.59 516.50 L620.42 516.50 L621.24 516.50 L622.06 516.50 L622.88 516.50 L623.71 516.50 L624.53 516.50 L625.35 516.50 L626.17 516.50 L626.99 516.50 L627.82 516.50 L628.64 516.50 L629.46 516.50 L630.28 516.50 L631.10 516.50 L631.93 516.50 L632.75 516.50 L633.57 516.50 L634.39 516.50 L635.21 516.50 L636.04 516.50 L636.86 516.50 L637.68 516.50 L638.50 516.50 L639.32 516.50 L640.15 516.50 L640.97 516.50 L641.79 516.50 L642.61 516.50 L643.43 516.50 L644.26 516.50 L645.08 516.50 L645.90 516.50 L646.72 516.50 L647.55 516.50 L648.37 516.50 L649.19 516.50 L650.01 516.50 L650.83 516.50 L651.66 516.50 L652.48 516.50 L653.30 516.50 L654.12 516.50 L654.94 516.50 L655.77 516.50 L656.59 516.50 L657.41 516.50 L658.23 516.50 L659.05 516.50 L659.88 516.50 L660.70 516.50 L661.52 516.50 L662.34 516.50 L663.16 516.50 L663.99 516.50 L664.81 516.50 L665.63 516.50 L666.45 516.50 L667.27 516.50 L668.10 516.50 L668.92 516.50 L669.74 516.50 L670.56 516.50 L671.39 516.50 L672.21 516.50 L673.03 516.50 L673.85 516.50 L674.67 516.50 L675.50 516.50 L676.32 516.50 L677.14 516.50 L677.96 516.50 L678.78 516.50 L679.61 516.50 L680.43 516.50 L681.25 516.50 L682.07 516.50 L682.89 516.50 L683.72 516.50 L684.54 516.50 L685.36 516.50 L686.18 516.50 L687.00 516.50 L687.83 516.50 L688.65 516.50 L689.47 516.50 L690.29 516.50 L691.12 516.50 L691.94 516.50 L692.76 516.50 L693.58 516.50 L694.40 516.50 L695.23 516.50 L696.05 516.50 L696.87 516.50 L697.69 516.50 L698.51 516.50 L699.34 516.50 L700.16 516.50 L700.98 516.50 L701.80 516.50 L702.62 516.50 L703.45 516.50 L704.27 516.50 L705.09 516.50 L705.91 516.50 L706.73 516.50 L707.56 516.50 L708.38 516.50 L709.20 516.50 L710.02 516.50 L710.84 516.50 L711.67 516.50 L712.49 516.50 L713.31 516.50 L714.13 516.50 L714.96 516.50 L715.78 516.50 L716.60 516.50 L717.42 516.50 L718.24 516.50 L719.07 516.50 L719.89 516.50 L720.71 516.50 L721.53 516.50 L722.35 516.50 L723.18 516.50 L724.00 516.50 L724.82 516.50 L725.64 516.50 L726.46 516.50 L727.29 516.50 L728.11 516.50 L728.93 516.50 L729.75 516.50 L730.57 516.50 L731.40 516.50 L732.22 516.50 L733.04 516.50 L733.86 516.50 L734.68 516.50 L735.51 516.50 L736.33 516.50 L737.15 516.50 L737.97 516.50 L738.80 516.50 L739.62 516.50 L740.44 516.50 L741.26 516.50 L742.08 516.50 L742.91 516.50 L743.73 516.50 L744.55 516.50 L745.37 516.50 L746.19 516.50 L747.02 516.50 L747.84 516.50 L748.66 516.50 L749.48 516.50 L750.30 516.50 L751.13 516.50 L751.95 516.50 L752.77 516.50 L753.59 516.50 L754.41 516.50 L755.24 516.50 L756.06 516.50 L756.88 516.50 L757.70 516.50 L758.53 516.50 L759.35 516.50 L760.17 516.50 L760.99 516.50 L761.81 516.50 L762.64 516.50 L763.46 516.50 L764.28 516.50 L765.10 516.50 L765.92 516.50 L766.75 516.50 L767.57 516.50 L768.39 516.50 L769.21 516.50 L770.03 516.50 L770.86 516.50 L771.68 516.50 L772.50 516.50 L773.32 516.50 L774.14 516.50 L774.97 516.50 L775.79 516.50 L776.61 516.50 L777.43 516.50 L778.25 516.50 L779.08 516.50 L779.90 516.50 L780.72 516.50 L781.54 516.50 L782.37 516.50 L783.19 516.50 L784.01 516.50 L784.83 516.50 L785.65 516.50 L786.48 516.50 L787.30 516.50 L788.12 516.50 L788.94 516.50 L789.76 516.50 L790.59 516.50 L791.41 516.50 L792.23 516.50 L793.05 516.50 L793.87 516.50 L794.70 516.50 L795.52 516.50 L796.34 516.50 L797.16 516.50 L797.98 516.50 L798.81 516.50 L799.63 516.50 L800.45 516.50 L801.27 516.50 L802.09 516.50 L802.92 516.50 L803.74 516.50 L804.56 516.50 L805.38 516.50 L806.21 516.50 L807.03 516.50 L807.85 516.50 L808.67 516.50 L809.49 516.50 L810.32 516.50 L811.14 516.50 L811.96 516.50 L812.78 516.50 L813.60 516.50 L814.43 516.50 L815.25 516.50 L816.07 516.50 L816.89 516.50 L817.71 516.50 L818.54 516.50 L819.36 516.50 L820.18 516.50 L821.00 516.50 L821.82 516.50 L822.65 516.50 L823.47 516.50 L824.29 516.50 L825.11 516.50 L825.94 516.50 L826.76 516.50 L827.58 516.50 L828.40 516.50 L829.22 516.50 L830.05 516.50 L830.87 516.50 L831.69 516.50 L832.51 516.50 L833.33 516.50 L834.16 516.50 L834.98 516.50 L835.80 516.50" fill="none" stroke="#0000ff" stroke-width="1.90" stroke-linejoin="round" stroke-linecap="butt" clip-path="url(#cd)"/>
<path d="M526.88 269.99 L526.89 270.96 L526.90 271.93 L526.91 272.90 L526.91 273.87 L526.92 274.84 L526.93 275.81 L526.94 276.78 L526.95 277.75 L526.96 278.72 L526.97 279.69 L526.98 280.66 L526.98 281.63 L526.99 282.60 L527.00 283.57 L527.01 284.54 L527.02 285.51 L527.03 286.47 L527.04 287.44 L527.05 288.41 L527.06 289.38 L527.08 290.35 L527.09 291.32 L527.10 292.29 L527.11 293.26 L527.12 294.23 L527.13 295.20 L527.14 296.17 L527.15 297.14 L527.17 298.10 L527.18 299.07 L527.19 300.04 L527.20 301.01 L527.21 301.98 L527.23 302.95 L527.24 303.92 L527.25 304.89 L527.26 305.86 L527.28 306.82 L527.29 307.79 L527.30 308.76 L527.32 309.73 L527.33 310.70 L527.34 311.67 L527.36 312.64 L527.37 313.61 L527.39 314.57 L527.40 315.54 L527.41 316.51 L527.43 317.48 L527.44 318.45 L527.46 319.42 L527.47 320.39 L527.49 321.35 L527.50 322.32 L527.52 323.29 L527.53 324.26 L527.55 325.23 L527.57 326.20 L527.58 327.16 L527.60 328.13 L527.61 329.10 L527.63 330.07 L527.65 331.04 L527.66 332.01 L527.68 332.97 L527.70 333.94 L527.71 334.91 L527.73 335.88 L527.75 336.85 L527.77 337.82 L527.78 338.78 L527.80 339.75 L527.82 340.72 L527.84 341.69 L527.85 342.66 L527.87 343.63 L527.89 344.59 L527.91 345.56 L527.93 346.53 L527.95 347.50 L527.97 348.47 L527.98 349.43 L528.00 350.40 L528.02 351.37 L528.04 352.34 L528.06 353.31 L528.08 354.28 L528.10 355.24 L528.12 356.21 L528.14 357.18 L528.16 358.15 L528.18 359.12 L528.20 360.08 L528.22 361.05 L528.24 362.02 L528.27 362.99 L528.29 363.96 L528.31 364.92 L528.33 365.89 L528.35 366.86 L528.37 367.83 L528.39 368.80 L528.42 369.76 L528.44 370.73 L528.46 371.70 L528.48 372.67 L528.50 373.64 L528.53 374.61 L528.55 375.57 L528.57 376.54 L528.60 377.51 L528.62 378.48 L528.64 379.45 L528.67 380.41 L528.69 381.38 L528.71 382.35 L528.74 383.32 L528.76 384.29 L528.79 385.25 L528.81 386.22 L528.83 387.19 L528.86 388.16 L528.88 389.13 L528.91 390.10 L528.93 391.06 L528.96 392.03 L528.98 393.00 L529.01 393.97 L529.03 394.94 L529.06 395.91 L529.09 396.87 L529.11 397.84 L529.14 398.81 L529.16 399.78 L529.19 400.75 L529.22 401.72 L529.24 402.68 L529.27 403.65 L529.30 404.62 L529.32 405.59 L529.35 406.56 L529.38 407.53 L529.41 408.49 L529.43 409.46 L529.46 410.43 L529.49 411.40 L529.52 412.37 L529.55 413.34 L529.57 414.30 L529.60 415.27 L529.63 416.24 L529.66 417.21 L529.69 418.18 L529.72 419.15 L529.75 420.12 L529.78 421.09 L529.81 422.05 L529.84 423.02 L529.87 423.99 L529.90 424.96 L529.93 425.93 L529.96 426.90 L529.99 427.87 L530.02 428.84 L530.05 429.80 L530.08 430.77 L530.11 431.74 L530.14 432.71 L530.17 433.68 L530.20 434.65 L530.23 435.62 L530.26 436.59 L530.30 437.56 L530.33 438.53 L530.36 439.49 L530.39 440.46 L530.42 441.43 L530.46 442.40 L530.49 443.37 L530.52 444.34 L530.56 445.31 L530.59 446.28 L530.63 447.25 L530.67 448.22 L530.71 449.19 L530.75 450.15 L530.79 451.12 L530.83 452.09 L530.88 453.06 L530.92 454.03 L530.97 455.00 L531.02 455.96 L531.07 456.93 L531.13 457.90 L531.19 458.87 L531.25 459.83 L531.31 460.80 L531.37 461.77 L531.44 462.73 L531.51 463.70 L531.59 464.67 L531.66 465.63 L531.75 466.60 L531.83 467.56 L531.92 468.53 L532.01 469.49 L532.11 470.45 L532.21 471.42 L532.31 472.38 L532.42 473.34 L532.53 474.30 L532.65 475.27 L532.77 476.23 L532.89 477.19 L533.02 478.15 L533.16 479.11 L533.30 480.07 L533.45 481.03 L533.60 481.99 L533.75 482.94 L533.92 483.90 L534.08 484.86 L534.26 485.81 L534.44 486.77 L534.62 487.72 L534.81 488.68 L535.01 489.63 L535.22 490.58 L535.43 491.54 L535.65 492.49 L535.87 493.44 L536.10 494.39 L536.34 495.34 L536.59 496.29 L536.85 497.23 L537.12 498.16 L537.41 499.09 L537.72 500.00 L538.04 500.91 L538.39 501.79 L538.77 502.67 L539.17 503.52 L539.60 504.35 L540.06 505.16 L540.55 505.95 L541.08 506.71 L541.65 507.44 L542.26 508.15 L542.91 508.82 L543.60 509.45 L544.34 510.05 L545.11 510.62 L545.92 511.15 L546.76 511.65 L547.62 512.12 L548.51 512.55 L549.41 512.95 L550.32 513.31 L551.25 513.64 L552.19 513.95 L553.14 514.22 L554.10 514.47 L555.07 514.70 L556.04 514.90 L557.02 515.08 L558.00 515.24 L558.99 515.38 L559.98 515.50 L560.97 515.61 L561.97 515.71 L562.96 515.79 L563.95 515.87 L564.93 515.93 L565.91 515.99 L566.89 516.05 L567.86 516.10 L568.83 516.14 L569.79 516.18 L570.75 516.22 L571.71 516.25 L572.66 516.28 L573.61 516.31 L574.56 516.33 L575.51 516.36 L576.46 516.38 L577.41 516.39 L578.36 516.41 L579.32 516.43 L580.27 516.44 L581.23 516.46 L582.19 516.47 L583.15 516.49 L584.12 516.50 L585.09 516.52 L586.07 516.54 L587.05 516.56 L588.04 516.58 L589.03 516.60 L590.03 516.62 L590.00 516.60 L590.82 516.60 L591.64 516.60 L592.47 516.60 L593.29 516.60 L594.11 516.60 L594.93 516.60 L595.75 516.60 L596.58 516.60 L597.40 516.60 L598.22 516.60 L599.04 516.60 L599.86 516.60 L600.69 516.60 L601.51 516.60 L602.33 516.60 L603.15 516.60 L603.98 516.60 L604.80 516.60 L605.62 516.60 L606.44 516.60 L607.26 516.60 L608.09 516.60 L608.91 516.60 L609.73 516.60 L610.55 516.60 L611.37 516.60 L612.20 516.60 L613.02 516.60 L613.84 516.60 L614.66 516.60 L615.48 516.60 L616.31 516.60 L617.13 516.60 L617.95 516.60 L618.77 516.60 L619.59 516.60 L620.42 516.60 L621.24 516.60 L622.06 516.60 L622.88 516.60 L623.71 516.60 L624.53 516.60 L625.35 516.60 L626.17 516.60 L626.99 516.60 L627.82 516.60 L628.64 516.60 L629.46 516.60 L630.28 516.60 L631.10 516.60 L631.93 516.60 L632.75 516.60 L633.57 516.60 L634.39 516.60 L635.21 516.60 L636.04 516.60 L636.86 516.60 L637.68 516.60 L638.50 516.60 L639.32 516.60 L640.15 516.60 L640.97 516.60 L641.79 516.60 L642.61 516.60 L643.43 516.60 L644.26 516.60 L645.08 516.60 L645.90 516.60 L646.72 516.60 L647.55 516.60 L648.37 516.60 L649.19 516.60 L650.01 516.60 L650.83 516.60 L651.66 516.60 L652.48 516.60 L653.30 516.60 L654.12 516.60 L654.94 516.60 L655.77 516.60 L656.59 516.60 L657.41 516.60 L658.23 516.60 L659.05 516.60 L659.88 516.60 L660.70 516.60 L661.52 516.60 L662.34 516.60 L663.16 516.60 L663.99 516.60 L664.81 516.60 L665.63 516.60 L666.45 516.60 L667.27 516.60 L668.10 516.60 L668.92 516.60 L669.74 516.60 L670.56 516.60 L671.39 516.60 L672.21 516.60 L673.03 516.60 L673.85 516.60 L674.67 516.60 L675.50 516.60 L676.32 516.60 L677.14 516.60 L677.96 516.60 L678.78 516.60 L679.61 516.60 L680.43 516.60 L681.25 516.60 L682.07 516.60 L682.89 516.60 L683.72 516.60 L684.54 516.60 L685.36 516.60 L686.18 516.60 L687.00 516.60 L687.83 516.60 L688.65 516.60 L689.47 516.60 L690.29 516.60 L691.12 516.60 L691.94 516.60 L692.76 516.60 L693.58 516.60 L694.40 516.60 L695.23 516.60 L696.05 516.60 L696.87 516.60 L697.69 516.60 L698.51 516.60 L699.34 516.60 L700.16 516.60 L700.98 516.60 L701.80 516.60 L702.62 516.60 L703.45 516.60 L704.27 516.60 L705.09 516.60 L705.91 516.60 L706.73 516.60 L707.56 516.60 L708.38 516.60 L709.20 516.60 L710.02 516.60 L710.84 516.60 L711.67 516.60 L712.49 516.60 L713.31 516.60 L714.13 516.60 L714.96 516.60 L715.78 516.60 L716.60 516.60 L717.42 516.60 L718.24 516.60 L719.07 516.60 L719.89 516.60 L720.71 516.60 L721.53 516.60 L722.35 516.60 L723.18 516.60 L724.00 516.60 L724.82 516.60 L725.64 516.60 L726.46 516.60 L727.29 516.60 L728.11 516.60 L728.93 516.60 L729.75 516.60 L730.57 516.60 L731.40 516.60 L732.22 516.60 L733.04 516.60 L733.86 516.60 L734.68 516.60 L735.51 516.60 L736.33 516.60 L737.15 516.60 L737.97 516.60 L738.80 516.60 L739.62 516.60 L740.44 516.60 L741.26 516.60 L742.08 516.60 L742.91 516.60 L743.73 516.60 L744.55 516.60 L745.37 516.60 L746.19 516.60 L747.02 516.60 L747.84 516.60 L748.66 516.60 L749.48 516.60 L750.30 516.60 L751.13 516.60 L751.95 516.60 L752.77 516.60 L753.59 516.60 L754.41 516.60 L755.24 516.60 L756.06 516.60 L756.88 516.60 L757.70 516.60 L758.53 516.60 L759.35 516.60 L760.17 516.60 L760.99 516.60 L761.81 516.60 L762.64 516.60 L763.46 516.60 L764.28 516.60 L765.10 516.60 L765.92 516.60 L766.75 516.60 L767.57 516.60 L768.39 516.60 L769.21 516.60 L770.03 516.60 L770.86 516.60 L771.68 516.60 L772.50 516.60 L773.32 516.60 L774.14 516.60 L774.97 516.60 L775.79 516.60 L776.61 516.60 L777.43 516.60 L778.25 516.60 L779.08 516.60 L779.90 516.60 L780.72 516.60 L781.54 516.60 L782.37 516.60 L783.19 516.60 L784.01 516.60 L784.83 516.60 L785.65 516.60 L786.48 516.60 L787.30 516.60 L788.12 516.60 L788.94 516.60 L789.76 516.60 L790.59 516.60 L791.41 516.60 L792.23 516.60 L793.05 516.60 L793.87 516.60 L794.70 516.60 L795.52 516.60 L796.34 516.60 L797.16 516.60 L797.98 516.60 L798.81 516.60 L799.63 516.60 L800.45 516.60 L801.27 516.60 L802.09 516.60 L802.92 516.60 L803.74 516.60 L804.56 516.60 L805.38 516.60 L806.21 516.60 L807.03 516.60 L807.85 516.60 L808.67 516.60 L809.49 516.60 L810.32 516.60 L811.14 516.60 L811.96 516.60 L812.78 516.60 L813.60 516.60 L814.43 516.60 L815.25 516.60 L816.07 516.60 L816.89 516.60 L817.71 516.60 L818.54 516.60 L819.36 516.60 L820.18 516.60 L821.00 516.60 L821.82 516.60 L822.65 516.60 L823.47 516.60 L824.29 516.60 L825.11 516.60 L825.94 516.60 L826.76 516.60 L827.58 516.60 L828.40 516.60 L829.22 516.60 L830.05 516.60 L830.87 516.60 L831.69 516.60 L832.51 516.60 L833.33 516.60 L834.16 516.60 L834.98 516.60 L835.80 516.60" fill="none" stroke="#ff0000" stroke-width="1.90" stroke-linejoin="round" stroke-linecap="butt" clip-path="url(#cd)"/>
<path d="M510.50 517.50v-2.50 M510.50 297.50v2.50 M528.50 517.50v-2.50 M528.50 297.50v2.50 M547.50 517.50v-2.50 M547.50 297.50v2.50 M584.50 517.50v-2.50 M584.50 297.50v2.50 M603.50 517.50v-2.50 M603.50 297.50v2.50 M621.50 517.50v-2.50 M621.50 297.50v2.50 M659.50 517.50v-2.50 M659.50 297.50v2.50 M677.50 517.50v-2.50 M677.50 297.50v2.50 M696.50 517.50v-2.50 M696.50 297.50v2.50 M733.50 517.50v-2.50 M733.50 297.50v2.50 M752.50 517.50v-2.50 M752.50 297.50v2.50 M770.50 517.50v-2.50 M770.50 297.50v2.50 M808.50 517.50v-2.50 M808.50 297.50v2.50 M826.50 517.50v-2.50 M826.50 297.50v2.50 M491.50 517.50v-4.20 M491.50 297.50v4.20 M565.50 517.50v-4.20 M565.50 297.50v4.20 M640.50 517.50v-4.20 M640.50 297.50v4.20 M714.50 517.50v-4.20 M714.50 297.50v4.20 M789.50 517.50v-4.20 M789.50 297.50v4.20 M486.50 505.50h2.50 M841.50 505.50h-2.50 M486.50 493.50h2.50 M841.50 493.50h-2.50 M486.50 480.50h2.50 M841.50 480.50h-2.50 M486.50 456.50h2.50 M841.50 456.50h-2.50 M486.50 444.50h2.50 M841.50 444.50h-2.50 M486.50 431.50h2.50 M841.50 431.50h-2.50 M486.50 407.50h2.50 M841.50 407.50h-2.50 M486.50 395.50h2.50 M841.50 395.50h-2.50 M486.50 383.50h2.50 M841.50 383.50h-2.50 M486.50 358.50h2.50 M841.50 358.50h-2.50 M486.50 346.50h2.50 M841.50 346.50h-2.50 M486.50 334.50h2.50 M841.50 334.50h-2.50 M486.50 309.50h2.50 M841.50 309.50h-2.50 M486.50 517.50h4.20 M841.50 517.50h-4.20 M486.50 468.50h4.20 M841.50 468.50h-4.20 M486.50 419.50h4.20 M841.50 419.50h-4.20 M486.50 370.50h4.20 M841.50 370.50h-4.20 M486.50 321.50h4.20 M841.50 321.50h-4.20" stroke="#666" stroke-width="0.50" fill="none"/>
<path d="M486.50 297.25V517.75" stroke="#666" stroke-width="0.60" fill="none"/>
<path d="M841.50 297.25V517.75" stroke="#666" stroke-width="0.60" fill="none"/>
<path d="M486.25 297.50H841.75" stroke="#666" stroke-width="0.50" fill="none"/>
<path d="M486.25 517.50H841.75" stroke="#666" stroke-width="0.55" fill="none"/>
<path d="M308.10 25.00H325.20" stroke="#0a0aff" stroke-width="1.8" fill="none"/>
<path d="M308.10 51.70H325.20" stroke="#ff0a0a" stroke-width="1.8" fill="none"/>
<path d="M308.10 79.00H325.20" stroke="#ff850a" stroke-width="1.8" fill="none"/>
<path d="M740.90 21.00H758.00" stroke="#0a0aff" stroke-width="1.8" fill="none"/>
<path d="M740.90 48.10H758.00" stroke="#ff0a0a" stroke-width="1.8" fill="none"/>
<path d="M740.90 82.00H758.00" stroke="#ff850a" stroke-width="1.8" fill="none"/>
<path d="M793.2 80.5H809" stroke="#000" stroke-width="1" fill="none"/>
<path d="M230.10 350.00H247.20" stroke="#0a0aff" stroke-width="1.8" fill="none"/>
<path d="M230.10 379.70H247.20" stroke="#ff0a0a" stroke-width="1.8" fill="none"/>
<path d="M657.10 350.40H674.00" stroke="#0a0aff" stroke-width="1.8" fill="none"/>
<path d="M657.10 380.30H674.00" stroke="#ff0a0a" stroke-width="1.8" fill="none"/>
<text transform="translate(66.00 225.00) scale(1.0116 1)" font-size="15.60">0</text>
<text transform="translate(37.23 190.00) scale(1.0879 1)" font-size="15.60">2000</text>
<text transform="translate(37.44 154.00) scale(1.0817 1)" font-size="15.60">4000</text>
<text transform="translate(37.23 119.00) scale(1.0879 1)" font-size="15.60">6000</text>
<text transform="translate(37.32 84.00) scale(1.0851 1)" font-size="15.60">8000</text>
<text transform="translate(46.87 48.00) scale(1.0764 1)" font-size="15.60">000</text>
<text transform="translate(25.30 48.00) scale(1.0635 1)" font-size="15.60">10</text>
<text transform="translate(46.87 13.00) scale(1.0764 1)" font-size="15.60">000</text>
<text transform="translate(25.33 13.00) scale(1.0400 1)" font-size="15.60">12</text>
<text transform="translate(73.07 237.00) scale(1.0116 1)" font-size="15.60">0</text>
<text transform="translate(125.93 237.00) scale(0.9727 1)" font-size="15.60">1</text>
<text transform="translate(178.56 237.00) scale(0.9720 1)" font-size="15.60">2</text>
<text transform="translate(231.55 237.00) scale(0.9820 1)" font-size="15.60">3</text>
<text transform="translate(284.24 237.00) scale(0.9992 1)" font-size="15.60">4</text>
<text transform="translate(337.09 237.00) scale(0.9718 1)" font-size="15.60">5</text>
<text transform="translate(389.57 237.00) scale(1.0556 1)" font-size="15.60">6</text>
<text transform="translate(14.85 176.82) rotate(-90) scale(1.0579 1)" font-size="15.60">Frequency (MHz)</text>
<text transform="translate(490.20 226.00) scale(1.0116 1)" font-size="15.60">0</text>
<text transform="translate(461.43 191.00) scale(1.0879 1)" font-size="15.60">2000</text>
<text transform="translate(461.64 156.00) scale(1.0817 1)" font-size="15.60">4000</text>
<text transform="translate(461.43 120.00) scale(1.0879 1)" font-size="15.60">6000</text>
<text transform="translate(461.52 85.00) scale(1.0851 1)" font-size="15.60">8000</text>
<text transform="translate(471.07 50.00) scale(1.0764 1)" font-size="15.60">000</text>
<text transform="translate(449.50 50.00) scale(1.0635 1)" font-size="15.60">10</text>
<text transform="translate(471.07 14.00) scale(1.0764 1)" font-size="15.60">000</text>
<text transform="translate(449.53 14.00) scale(1.0400 1)" font-size="15.60">12</text>
<text transform="translate(578.12 238.00) scale(1.0549 1)" font-size="15.60">50</text>
<text transform="translate(670.29 238.00) scale(1.0763 1)" font-size="15.60">100</text>
<text transform="translate(767.39 238.00) scale(1.0763 1)" font-size="15.60">150</text>
<text transform="translate(439.40 178.92) rotate(-90) scale(1.0579 1)" font-size="15.60">Frequency (MHz)</text>
<text transform="translate(51.00 522.00) scale(1.0116 1)" font-size="15.60">0</text>
<text transform="translate(22.23 473.00) scale(1.0879 1)" font-size="15.60">2000</text>
<text transform="translate(22.44 424.00) scale(1.0817 1)" font-size="15.60">4000</text>
<text transform="translate(22.23 375.00) scale(1.0879 1)" font-size="15.60">6000</text>
<text transform="translate(22.32 327.00) scale(1.0851 1)" font-size="15.60">8000</text>
<text transform="translate(58.07 533.00) scale(1.0116 1)" font-size="15.60">0</text>
<text transform="translate(112.78 533.00) scale(0.9727 1)" font-size="15.60">1</text>
<text transform="translate(167.25 533.00) scale(0.9720 1)" font-size="15.60">2</text>
<text transform="translate(222.09 533.00) scale(0.9820 1)" font-size="15.60">3</text>
<text transform="translate(276.63 533.00) scale(0.9992 1)" font-size="15.60">4</text>
<text transform="translate(331.32 533.00) scale(0.9718 1)" font-size="15.60">5</text>
<text transform="translate(385.65 533.00) scale(1.0556 1)" font-size="15.60">6</text>
<text transform="translate(11.20 470.32) rotate(-90) scale(1.0546 1)" font-size="15.60">Frequency (MHz)</text>
<text transform="translate(474.60 523.00) scale(1.0116 1)" font-size="15.60">0</text>
<text transform="translate(445.83 474.00) scale(1.0879 1)" font-size="15.60">2000</text>
<text transform="translate(446.04 425.00) scale(1.0817 1)" font-size="15.60">4000</text>
<text transform="translate(445.83 376.00) scale(1.0879 1)" font-size="15.60">6000</text>
<text transform="translate(445.92 327.00) scale(1.0851 1)" font-size="15.60">8000</text>
<text transform="translate(486.97 534.00) scale(1.0116 1)" font-size="15.60">0</text>
<text transform="translate(547.01 534.00) scale(1.0879 1)" font-size="15.60">2000</text>
<text transform="translate(621.73 534.00) scale(1.0817 1)" font-size="15.60">4000</text>
<text transform="translate(696.01 534.00) scale(1.0879 1)" font-size="15.60">6000</text>
<text transform="translate(770.61 534.00) scale(1.0851 1)" font-size="15.60">8000</text>
<text transform="translate(436.00 470.32) rotate(-90) scale(1.0546 1)" font-size="15.60">Frequency (MHz)</text>
<text transform="translate(219.94 260.00) scale(1.0093 1)" font-size="15.07" class="i">θ</text>
<text transform="translate(228.94 263.00) scale(1.0632 1)" font-size="11.12" class="i">μ</text>
<text transform="translate(239.58 260.00) scale(1.0906 1)" font-size="15.60">(deg)</text>
<text transform="translate(211.24 557.00) scale(1.0093 1)" font-size="15.07" class="i">θ</text>
<text transform="translate(220.24 560.00) scale(1.0632 1)" font-size="11.12" class="i">μ</text>
<text transform="translate(230.88 557.00) scale(1.0906 1)" font-size="15.60">(deg)</text>
<text transform="translate(650.77 261.00) scale(1.1244 1)" font-size="15.60">r (km)</text>
<text transform="translate(641.58 557.00) scale(1.1192 1)" font-size="15.60">r (km)</text>
<text transform="translate(92.21 38.00) scale(1.0931 1)" font-size="13.50" class="s">(a)</text>
<text transform="translate(565.34 54.00) scale(1.0425 1)" font-size="13.50" class="s">(b)</text>
<text transform="translate(92.21 332.00) scale(1.0931 1)" font-size="13.50" class="s">(c)</text>
<text transform="translate(558.41 332.00) scale(1.0974 1)" font-size="13.50" class="s">(d)</text>
<text transform="translate(333.11 28.00) scale(1.1198 1)" font-size="13.26" class="i">ψ</text>
<text transform="translate(343.65 31.00) scale(1.0593 1)" font-size="11.08" class="i">c</text>
<text transform="translate(355.14 29.00) scale(0.9749 1)" font-size="15.60">=</text>
<text transform="translate(368.43 28.00) scale(1.0684 1)" font-size="15.60">0</text>
<text transform="translate(333.11 55.00) scale(1.1198 1)" font-size="13.26" class="i">ψ</text>
<text transform="translate(343.65 58.00) scale(1.0593 1)" font-size="11.08" class="i">c</text>
<text transform="translate(350.33 56.00) scale(0.9882 1)" font-size="15.60">=</text>
<text transform="translate(358.83 55.00) scale(1.0927 1)" font-size="15.83" class="i">π</text>
<text transform="translate(333.11 82.00) scale(1.1198 1)" font-size="13.26" class="i">ψ</text>
<text transform="translate(345.46 82.00) scale(1.0286 1)" font-size="15.60">c</text>
<text transform="translate(353.17 83.00) scale(0.9348 1)" font-size="15.60">=</text>
<text transform="translate(361.36 82.00) scale(1.0229 1)" font-size="15.60">3</text>
<text transform="translate(372.26 82.00) scale(0.9323 1)" font-size="15.83" class="i">π</text>
<text transform="translate(381.30 82.00) scale(1.0437 1)" font-size="15.60">/2</text>
<text transform="translate(766.01 25.00) scale(1.1198 1)" font-size="13.26" class="i">ψ</text>
<text transform="translate(776.55 28.00) scale(1.0593 1)" font-size="11.08" class="i">c</text>
<text transform="translate(787.76 26.00) scale(0.9482 1)" font-size="15.60">=</text>
<text transform="translate(801.41 25.00) scale(1.1084 1)" font-size="15.60">0</text>
<text transform="translate(766.01 52.00) scale(1.1198 1)" font-size="13.26" class="i">ψ</text>
<text transform="translate(778.37 52.00) scale(1.0137 1)" font-size="15.60">c</text>
<text transform="translate(785.87 53.00) scale(0.9348 1)" font-size="15.60">=</text>
<text transform="translate(794.18 52.00) scale(1.0326 1)" font-size="15.83" class="i">π</text>
<text transform="translate(766.01 85.00) scale(1.1198 1)" font-size="13.26" class="i">ψ</text>
<text transform="translate(776.55 88.00) scale(1.0593 1)" font-size="11.08" class="i">c</text>
<text transform="translate(783.00 86.00) scale(1.0283 1)" font-size="15.60">=</text>
<text transform="translate(794.19 77.00) scale(0.9119 1)" font-size="11.20">3</text>
<text transform="translate(802.95 77.00) scale(1.0376 1)" font-size="10.56" class="i">π</text>
<text transform="translate(798.66 93.00) scale(0.9705 1)" font-size="11.20">2</text>
<text transform="translate(255.41 353.00) scale(1.1198 1)" font-size="13.26" class="i">ψ</text>
<text transform="translate(265.95 356.00) scale(1.0593 1)" font-size="11.08" class="i">c</text>
<text transform="translate(277.13 354.00) scale(0.9882 1)" font-size="15.60">=</text>
<text transform="translate(291.13 353.00) scale(1.0714 1)" font-size="15.60">0,</text>
<text transform="translate(309.83 353.00) scale(0.9872 1)" font-size="15.60">Cos[</text>
<text transform="translate(342.59 353.00) scale(1.1434 1)" font-size="13.26" class="i">ψ</text>
<text transform="translate(353.64 353.00) scale(1.0256 1)" font-size="15.60">]</text>
<text transform="translate(357.38 354.00) scale(0.9215 1)" font-size="15.60">=</text>
<text transform="translate(366.42 353.00) scale(1.0897 1)" font-size="15.60">0.1</text>
<text transform="translate(255.41 383.00) scale(1.1198 1)" font-size="13.26" class="i">ψ</text>
<text transform="translate(265.95 386.00) scale(1.0593 1)" font-size="11.08" class="i">c</text>
<text transform="translate(277.13 384.00) scale(0.9882 1)" font-size="15.60">=</text>
<text transform="translate(291.09 383.00) scale(0.8922 1)" font-size="15.83" class="i">π</text>
<text transform="translate(299.98 383.00) scale(1.1538 1)" font-size="15.60">,</text>
<text transform="translate(305.84 383.00) scale(0.9712 1)" font-size="15.60">Cos[</text>
<text transform="translate(338.06 383.00) scale(1.1787 1)" font-size="13.26" class="i">ψ</text>
<text transform="translate(349.26 383.00) scale(0.8974 1)" font-size="15.60">]</text>
<text transform="translate(353.31 384.00) scale(1.0150 1)" font-size="15.60">=</text>
<text transform="translate(362.53 383.00) scale(1.0137 1)" font-size="15.60">1</text>
<text transform="translate(682.01 354.00) scale(1.1198 1)" font-size="13.26" class="i">ψ</text>
<text transform="translate(692.55 357.00) scale(1.0593 1)" font-size="11.08" class="i">c</text>
<text transform="translate(703.94 355.00) scale(0.9749 1)" font-size="15.60">=</text>
<text transform="translate(717.61 353.00) scale(1.0989 1)" font-size="15.60">0,</text>
<text transform="translate(731.53 353.00) scale(0.9872 1)" font-size="15.60">Cos[</text>
<text transform="translate(764.26 354.00) scale(1.1787 1)" font-size="13.26" class="i">ψ</text>
<text transform="translate(775.59 353.00) scale(0.8800 1)" font-size="15.60">]</text>
<text transform="translate(779.54 355.00) scale(0.9749 1)" font-size="15.60">=</text>
<text transform="translate(788.74 353.00) scale(1.0651 1)" font-size="15.60">0.1</text>
<text transform="translate(682.01 384.00) scale(1.1198 1)" font-size="13.26" class="i">ψ</text>
<text transform="translate(692.55 386.00) scale(1.0593 1)" font-size="11.08" class="i">c</text>
<text transform="translate(703.94 385.00) scale(0.9749 1)" font-size="15.60">=</text>
<text transform="translate(717.90 383.00) scale(0.8822 1)" font-size="15.83" class="i">π</text>
<text transform="translate(726.98 383.00) scale(1.1538 1)" font-size="15.60">,</text>
<text transform="translate(732.23 383.00) scale(0.9936 1)" font-size="15.60">Cos[</text>
<text transform="translate(764.84 384.00) scale(1.2023 1)" font-size="13.26" class="i">ψ</text>
<text transform="translate(776.59 383.00) scale(0.8800 1)" font-size="15.60">]</text>
<text transform="translate(780.13 385.00) scale(0.9882 1)" font-size="15.60">=</text>
<text transform="translate(789.35 383.00) scale(0.9988 1)" font-size="15.60">1</text>
</svg></body></html>
